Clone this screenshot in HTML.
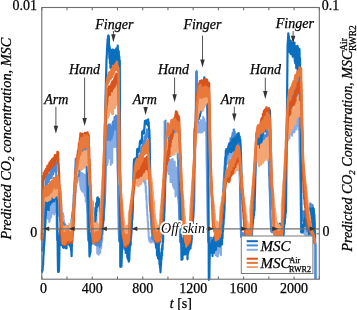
<!DOCTYPE html>
<html><head><meta charset="utf-8"><style>
html,body{margin:0;padding:0;background:#fff;width:357px;height:310px;overflow:hidden}
svg{display:block;will-change:transform}
text{font-family:"Liberation Serif",serif;font-size:14px;fill:#000;stroke:#000;stroke-width:0.25px}
.it{font-style:italic}
</style></head><body>
<svg width="357" height="310" viewBox="0 0 357 310">
<rect width="357" height="310" fill="#fff"/>
<g id="series"><path d="M41.90,244.4 L42.07,245.0 L42.34,241.8 L42.61,243.3 L42.88,239.0 L43.15,240.7 L43.42,237.5 L43.69,239.0 L43.96,235.8 L44.23,236.8 L44.50,233.5 L44.75,232.0 L45.00,225.4 L45.25,224.7 L45.50,218.5 L45.75,217.4 L46.00,210.9 L46.25,214.4 L46.50,211.6 L46.75,214.4 L47.00,209.5 L47.25,215.2 L47.50,212.6 L47.75,218.4 L48.00,213.1 L48.25,217.3 L48.50,213.5 L48.75,218.9 L49.00,214.2 L49.25,222.0 L49.50,212.2 L49.75,221.2 L50.00,210.2 L50.25,217.5 L50.50,211.0 L50.75,217.7 L51.00,205.2 L51.25,217.1 L51.50,203.2 L51.75,213.2 L52.00,204.8 L52.25,213.7 L52.50,205.2 L52.75,212.3 L53.00,200.5 L53.25,209.9 L53.50,204.8 L53.75,213.2 L54.00,200.5 L54.25,214.5 L54.50,202.4 L54.75,209.7 L55.00,198.7 L55.25,211.8 L55.50,200.3 L55.75,209.4 L56.00,198.3 L56.25,210.6 L56.50,202.5 L56.75,213.6 L57.00,199.8 L57.25,214.0 L57.50,199.5 L57.75,210.8 L58.00,205.3 L58.25,213.8 L58.50,205.1 L58.75,215.8 L59.00,208.0 L59.25,215.7 L59.50,204.2 L59.75,216.1 L60.00,208.0 L60.25,219.0 L60.50,205.5 L60.75,219.6 L61.00,211.1 L61.25,220.1 L61.50,206.9 L61.75,216.0 L62.00,212.4 L62.25,218.5 L62.50,213.8 L62.75,220.4 L63.00,213.3 L63.25,223.2 L63.50,215.8 L63.75,226.0 L64.00,220.8 L64.25,228.2 L64.50,222.7 L64.75,230.9 L65.00,227.3 L65.25,236.1 L65.50,229.3 L65.75,237.9 L66.00,234.7 L66.25,239.8 L66.50,233.8 L66.75,241.1 L67.00,235.2 L67.25,241.1 L67.50,238.4 L67.75,243.8 L68.00,235.6 L68.25,242.8 L68.50,236.1 L68.75,243.2 L69.00,238.9 L69.25,243.9 L69.50,238.9 L69.75,243.1 L70.00,237.1 L70.25,244.5 L70.50,239.3 L70.75,244.8 L71.00,239.1 L71.25,238.0 L71.50,228.9 L71.75,230.8 L72.00,221.0 L72.25,221.9 L72.50,213.2 L72.75,213.1 L73.00,203.6 L73.25,203.6 L73.50,195.1 L73.75,194.9 L74.00,187.7 L74.25,185.0 L74.50,179.0 L74.75,176.9 L75.00,168.1 L75.25,166.2 L75.50,158.6 L75.75,161.9 L76.00,160.7 L76.25,164.8 L76.50,161.9 L76.75,167.5 L77.00,163.6 L77.25,168.6 L77.50,165.8 L77.75,173.4 L78.00,167.4 L78.25,172.6 L78.50,166.8 L78.75,178.5 L79.00,167.6 L79.25,180.8 L79.50,173.0 L79.75,181.7 L80.00,172.9 L80.25,186.1 L80.50,173.1 L80.75,189.0 L81.00,173.1 L81.25,189.0 L81.50,176.4 L81.75,190.7 L82.00,173.1 L82.25,190.7 L82.50,180.4 L82.75,191.8 L83.00,175.9 L83.25,190.8 L83.50,174.1 L83.75,188.8 L84.00,174.4 L84.25,192.8 L84.50,177.3 L84.75,195.7 L85.00,178.1 L85.25,190.6 L85.50,175.0 L85.75,201.6 L86.00,180.1 L86.25,195.9 L86.50,186.5 L86.75,204.5 L87.00,190.0 L87.25,207.5 L87.50,196.5 L87.75,213.6 L88.00,203.6 L88.25,217.6 L88.50,213.6 L88.75,218.7 L89.00,206.8 L89.25,212.0 L89.50,202.9 L89.75,207.4 L90.00,195.2 L90.25,207.2 L90.50,199.2 L90.75,210.4 L91.00,203.1 L91.25,212.7 L91.50,201.4 L91.75,215.3 L92.00,202.7 L92.25,222.0 L92.50,204.0 L92.75,224.0 L93.00,201.7 L93.25,223.7 L93.50,211.0 L93.75,225.2 L94.00,207.5 L94.25,227.1 L94.50,210.2 L94.75,225.3 L95.00,212.3 L95.25,239.3 L95.50,218.5 L95.75,235.8 L96.00,220.0 L96.25,239.7 L96.50,214.6 L96.75,243.0 L97.00,223.9 L97.25,253.6 L97.50,224.4 L97.75,243.5 L98.00,225.1 L98.25,247.9 L98.50,234.8 L98.75,254.7 L99.00,229.6 L99.25,251.4 L99.50,230.8 L99.75,252.8 L100.00,229.5 L100.25,252.8 L100.50,226.5 L100.75,247.2 L101.00,228.1 L101.25,248.0 L101.50,234.4 L101.75,242.8 L102.00,236.9 L102.25,240.0 L102.50,228.9 L102.75,234.2 L103.00,222.1 L103.25,226.7 L103.50,216.2 L103.75,220.3 L104.00,213.3 L104.25,211.1 L104.50,205.7 L104.75,204.6 L105.00,199.5 L105.25,192.2 L105.50,181.7 L105.75,174.6 L106.00,164.4 L106.25,165.1 L106.50,159.2 L106.75,163.2 L107.00,149.9 L107.25,165.0 L107.50,141.9 L107.75,162.5 L108.00,133.5 L108.25,156.1 L108.50,132.9 L108.75,157.9 L109.00,136.5 L109.25,156.2 L109.50,127.4 L109.75,158.6 L110.00,140.9 L110.25,155.9 L110.50,131.8 L110.75,165.1 L111.00,131.2 L111.25,157.5 L111.50,130.2 L111.75,158.2 L112.00,126.9 L112.25,163.0 L112.50,128.6 L112.75,146.3 L113.00,128.1 L113.25,145.4 L113.50,125.2 L113.75,147.0 L114.00,123.3 L114.25,141.3 L114.50,125.6 L114.75,141.4 L115.00,128.4 L115.25,147.0 L115.50,121.2 L115.75,144.1 L116.00,127.2 L116.25,135.0 L116.50,119.6 L116.75,139.3 L117.00,124.0 L117.25,150.0 L117.50,153.4 L117.75,174.5 L118.00,184.0 L118.25,204.6 L118.50,210.4 L118.75,227.9 L119.00,238.0 L119.25,240.8 L119.50,238.8 L119.75,241.2 L120.00,238.8 L120.25,242.7 L120.50,238.2 L120.75,243.8 L121.00,238.0 L121.25,243.8 L121.50,238.9 L121.75,243.4 L122.00,238.2 L122.25,245.3 L122.50,237.4 L122.75,245.7 L123.00,239.2 L123.25,245.5 L123.50,238.4 L123.75,247.5 L124.00,240.3 L124.25,249.4 L124.50,238.8 L124.75,246.9 L125.00,235.9 L125.25,248.8 L125.50,235.3 L125.75,250.7 L126.00,236.6 L126.25,247.1 L126.50,240.7 L126.75,249.8 L127.00,236.6 L127.25,247.9 L127.50,239.5 L127.75,244.9 L128.00,233.1 L128.25,245.6 L128.50,235.2 L128.75,244.0 L129.00,236.1 L129.25,242.7 L129.50,234.2 L129.75,245.1 L130.00,240.4 L130.25,244.4 L130.50,236.1 L130.75,244.0 L131.00,234.9 L131.25,238.8 L131.50,228.6 L131.75,228.8 L132.00,218.2 L132.25,217.9 L132.50,210.0 L132.75,208.1 L133.00,198.7 L133.25,198.4 L133.50,188.1 L133.75,187.2 L134.00,179.4 L134.25,179.4 L134.50,175.5 L134.75,179.0 L135.00,172.5 L135.25,175.7 L135.50,169.0 L135.75,172.1 L136.00,168.0 L136.25,170.5 L136.50,164.8 L136.75,168.7 L137.00,160.7 L137.25,168.6 L137.50,155.6 L137.75,163.3 L138.00,152.2 L138.25,165.8 L138.50,157.8 L138.75,165.0 L139.00,157.5 L139.25,168.6 L139.50,156.2 L139.75,165.2 L140.00,156.6 L140.25,171.5 L140.50,162.7 L140.75,171.9 L141.00,164.8 L141.25,175.5 L141.50,167.2 L141.75,172.6 L142.00,166.2 L142.25,174.6 L142.50,167.8 L142.75,178.1 L143.00,166.5 L143.25,181.6 L143.50,170.3 L143.75,176.5 L144.00,169.6 L144.25,178.9 L144.50,166.7 L144.75,183.2 L145.00,168.3 L145.25,185.0 L145.50,181.5 L145.75,192.2 L146.00,186.2 L146.25,199.7 L146.50,195.6 L146.75,208.2 L147.00,205.2 L147.25,215.1 L147.50,214.9 L147.75,222.5 L148.00,221.8 L148.25,230.7 L148.50,231.3 L148.75,237.9 L149.00,238.2 L149.25,240.8 L149.50,239.3 L149.75,241.1 L150.00,238.3 L150.25,242.2 L150.50,237.8 L150.75,242.3 L151.00,237.9 L151.25,242.4 L151.50,236.9 L151.75,242.3 L152.00,238.0 L152.25,241.5 L152.50,236.6 L152.75,240.2 L153.00,236.4 L153.25,241.5 L153.50,236.8 L153.75,241.6 L154.00,236.1 L154.25,242.1 L154.50,235.9 L154.75,243.0 L155.00,235.5 L155.25,244.0 L155.50,237.1 L155.75,242.7 L156.00,236.7 L156.25,242.7 L156.50,236.9 L156.75,244.2 L157.00,236.6 L157.25,242.6 L157.50,233.9 L157.75,244.6 L158.00,233.8 L158.25,244.1 L158.50,235.5 L158.75,241.4 L159.00,235.4 L159.25,245.2 L159.50,236.1 L159.75,242.8 L160.00,236.4 L160.25,240.3 L160.50,229.0 L160.75,237.2 L161.00,226.7 L161.25,230.5 L161.50,221.9 L161.75,227.2 L162.00,218.4 L162.25,221.7 L162.50,216.1 L162.75,218.6 L163.00,213.0 L163.25,213.4 L163.50,207.4 L163.75,207.5 L164.00,203.7 L164.25,202.6 L164.50,199.6 L164.50,121.5 L164.75,139.7 L165.00,160.6 L165.25,159.5 L165.50,162.9 L165.75,160.1 L166.00,164.8 L166.25,159.5 L166.50,166.8 L166.75,159.3 L167.00,165.2 L167.25,161.9 L167.50,167.2 L167.75,163.3 L168.00,171.7 L168.25,161.2 L168.50,173.9 L168.75,163.6 L169.00,174.1 L169.25,162.3 L169.50,174.5 L169.75,160.0 L170.00,173.1 L170.25,163.5 L170.50,182.0 L170.75,160.6 L171.00,182.1 L171.25,164.4 L171.50,176.0 L171.75,159.6 L172.00,179.5 L172.25,162.6 L172.50,182.8 L172.75,159.0 L173.00,185.6 L173.25,168.9 L173.50,187.4 L173.75,162.6 L174.00,187.7 L174.25,170.3 L174.50,189.1 L174.75,161.5 L175.00,188.7 L175.25,171.4 L175.50,196.5 L175.75,177.2 L176.00,185.9 L176.25,167.6 L176.50,195.3 L176.75,169.4 L177.00,191.0 L177.25,176.9 L177.50,188.0 L177.75,174.8 L178.00,198.5 L178.25,184.9 L178.50,204.0 L178.75,202.2 L179.00,215.9 L179.25,213.7 L179.50,231.1 L179.75,230.0 L180.00,241.8 L180.25,239.6 L180.50,242.4 L180.75,239.1 L181.00,243.6 L181.25,239.4 L181.50,242.7 L181.75,238.4 L182.00,244.2 L182.25,239.1 L182.50,243.5 L182.75,239.9 L183.00,245.4 L183.25,239.0 L183.50,246.3 L183.75,239.4 L184.00,248.6 L184.25,243.5 L184.50,249.4 L184.75,241.4 L185.00,250.3 L185.25,242.5 L185.50,248.3 L185.75,241.3 L186.00,250.3 L186.25,245.3 L186.50,252.8 L186.75,241.9 L187.00,249.8 L187.25,243.3 L187.50,249.0 L187.75,239.2 L188.00,247.1 L188.25,241.2 L188.50,247.6 L188.75,242.3 L189.00,245.7 L189.25,240.8 L189.50,244.6 L189.75,239.3 L190.00,244.9 L190.25,236.7 L190.50,245.0 L190.75,236.2 L191.00,244.0 L191.25,237.9 L191.50,243.7 L191.75,236.0 L192.00,241.8 L192.25,232.0 L192.50,234.4 L192.75,224.9 L193.00,225.4 L193.25,217.7 L193.50,216.9 L193.75,211.0 L194.00,209.1 L194.25,203.5 L194.50,200.5 L194.75,181.6 L195.00,165.4 L195.25,147.0 L195.50,130.9 L195.75,128.8 L196.00,130.4 L196.25,128.8 L196.50,131.4 L196.75,127.2 L197.00,132.3 L197.25,126.2 L197.50,132.0 L197.75,126.5 L198.00,130.3 L198.25,124.6 L198.50,132.7 L198.75,125.0 L199.00,131.1 L199.25,122.2 L199.50,130.5 L199.75,124.6 L200.00,131.4 L200.25,123.3 L200.50,132.4 L200.75,119.9 L201.00,129.9 L201.25,122.4 L201.50,132.3 L201.75,122.9 L202.00,132.1 L202.25,121.4 L202.50,132.2 L202.75,120.1 L203.00,130.3 L203.25,116.7 L203.50,130.5 L203.75,120.8 L204.00,129.9 L204.25,118.7 L204.50,129.6 L204.75,121.1 L205.00,128.5 L205.25,122.7 L205.50,131.2 L205.75,123.2 L206.00,130.5 L206.25,137.0 L206.50,159.4 L206.75,168.0 L207.00,187.8 L207.25,194.1 L207.50,213.4 L207.75,222.9 L208.00,241.1 L208.25,238.8 L208.50,242.6 L208.75,238.3 L209.00,243.4 L209.25,239.4 L209.50,243.2 L209.75,241.4 L210.00,244.5 L210.25,239.8 L210.50,245.8 L210.75,240.7 L211.00,247.0 L211.25,240.3 L211.50,245.3 L211.75,240.2 L212.00,247.7 L212.25,240.6 L212.50,250.6 L212.75,242.1 L213.00,246.9 L213.25,238.9 L213.50,251.0 L213.75,243.3 L214.00,248.6 L214.25,243.7 L214.50,248.3 L214.75,241.7 L215.00,253.1 L215.25,240.2 L215.50,254.9 L215.75,243.6 L216.00,254.0 L216.25,242.9 L216.50,251.9 L216.75,244.7 L217.00,256.2 L217.25,244.6 L217.50,253.7 L217.75,245.6 L218.00,256.4 L218.25,242.0 L218.50,249.3 L218.75,242.1 L219.00,252.4 L219.25,243.0 L219.50,248.7 L219.75,242.6 L220.00,249.3 L220.25,237.1 L220.50,253.9 L220.75,239.1 L221.00,255.3 L221.25,235.0 L221.50,243.8 L221.75,227.9 L222.00,230.2 L222.25,218.0 L222.50,218.7 L222.75,209.7 L223.00,208.6 L223.25,197.0 L223.50,198.3 L223.75,186.6 L224.00,187.4 L224.25,178.7 L224.50,176.8 L224.75,167.9 L225.00,165.8 L225.25,163.3 L225.50,164.7 L225.75,162.1 L226.00,164.5 L226.25,160.7 L226.50,164.3 L226.75,159.5 L227.00,162.8 L227.25,157.3 L227.50,161.3 L227.75,156.5 L228.00,163.5 L228.25,156.6 L228.50,161.1 L228.75,152.5 L229.00,160.5 L229.25,152.5 L229.50,159.3 L229.75,150.3 L230.00,157.6 L230.25,147.2 L230.50,156.7 L230.75,145.7 L231.00,156.9 L231.25,147.3 L231.50,157.6 L231.75,145.7 L232.00,157.7 L232.25,146.5 L232.50,155.8 L232.75,141.7 L233.00,155.3 L233.25,142.7 L233.50,154.5 L233.75,143.7 L234.00,155.3 L234.25,140.9 L234.50,154.1 L234.75,144.0 L235.00,151.6 L235.25,142.9 L235.50,154.6 L235.75,143.4 L236.00,153.2 L236.25,139.4 L236.50,150.3 L236.75,143.3 L237.00,150.2 L237.25,139.1 L237.50,150.8 L237.75,137.8 L238.00,146.3 L238.25,138.4 L238.50,148.2 L238.75,140.8 L239.00,148.3 L239.25,148.3 L239.50,171.5 L239.75,173.4 L240.00,193.1 L240.25,198.5 L240.50,214.4 L240.75,221.6 L241.00,236.0 L241.25,234.0 L241.50,237.0 L241.75,234.0 L242.00,236.4 L242.25,233.2 L242.50,236.0 L242.75,232.8 L243.00,237.2 L243.25,234.0 L243.50,235.7 L243.75,233.3 L244.00,236.9 L244.25,233.1 L244.50,237.1 L244.75,233.9 L245.00,235.9 L245.25,233.8 L245.50,237.6 L245.75,232.9 L246.00,236.8 L246.25,233.3 L246.50,237.1 L246.75,233.1 L247.00,236.5 L247.25,231.4 L247.50,235.9 L247.75,231.7 L248.00,236.2 L248.25,232.0 L248.50,236.9 L248.75,232.1 L249.00,235.9 L249.25,233.1 L249.50,237.8 L249.75,231.7 L250.00,237.4 L250.25,232.6 L250.50,237.6 L250.75,232.9 L251.00,237.8 L251.25,229.9 L251.50,237.6 L251.75,230.0 L252.00,236.1 L252.25,227.1 L252.50,227.3 L252.75,216.4 L253.00,217.3 L253.25,206.8 L253.50,206.6 L253.75,197.0 L254.00,195.5 L254.25,188.3 L254.50,187.0 L254.75,179.1 L255.00,177.4 L255.25,168.8 L255.50,166.4 L255.75,158.2 L256.00,156.5 L256.25,153.9 L256.50,157.0 L256.75,152.5 L257.00,157.6 L257.25,153.9 L257.50,157.0 L257.75,151.3 L258.00,158.1 L258.25,151.9 L258.50,157.4 L258.75,150.3 L259.00,157.3 L259.25,150.6 L259.50,157.1 L259.75,147.2 L260.00,154.5 L260.25,148.1 L260.50,153.4 L260.75,148.6 L261.00,156.0 L261.25,143.8 L261.50,154.0 L261.75,145.5 L262.00,158.6 L262.25,142.0 L262.50,154.3 L262.75,142.9 L263.00,153.3 L263.25,140.0 L263.50,150.3 L263.75,141.5 L264.00,150.2 L264.25,141.4 L264.50,156.2 L264.75,144.1 L265.00,154.2 L265.25,140.9 L265.50,155.1 L265.75,140.2 L266.00,154.1 L266.25,143.6 L266.50,154.8 L266.75,140.4 L267.00,157.7 L267.25,139.6 L267.50,153.0 L267.75,144.3 L268.00,156.1 L268.25,139.1 L268.50,154.3 L268.75,136.8 L269.00,149.8 L269.25,153.6 L269.50,177.6 L269.75,172.2 L270.00,191.8 L270.25,196.2 L270.50,211.9 L270.75,218.3 L271.00,230.6 L271.25,228.3 L271.50,231.9 L271.75,228.2 L272.00,231.7 L272.25,228.9 L272.50,231.7 L272.75,228.8 L273.00,231.2 L273.25,229.6 L273.50,231.6 L273.75,228.3 L274.00,232.1 L274.25,228.9 L274.50,232.0 L274.75,229.8 L275.00,233.0 L275.25,228.9 L275.50,232.4 L275.75,230.0 L276.00,232.5 L276.25,229.1 L276.50,233.9 L276.75,229.8 L277.00,232.5 L277.25,230.4 L277.50,233.8 L277.75,229.4 L278.00,234.2 L278.25,230.5 L278.50,234.0 L278.75,230.0 L279.00,234.7 L279.25,230.8 L279.50,235.6 L279.75,229.8 L280.00,235.1 L280.25,231.6 L280.50,235.2 L280.75,231.3 L281.00,235.0 L281.25,228.2 L281.50,235.0 L281.75,228.5 L282.00,233.5 L282.25,228.3 L282.50,236.2 L282.75,228.4 L283.00,235.4 L283.25,225.9 L283.50,223.6 L283.75,213.8 L284.00,213.1 L284.25,202.1 L284.50,199.7 L284.75,191.3 L285.00,188.3 L285.25,177.5 L285.50,176.7 L285.75,167.0 L286.00,164.9 L286.25,155.7 L286.50,152.9 L286.75,143.8 L287.00,140.8 L287.25,138.7 L287.50,140.9 L287.75,136.6 L288.00,140.0 L288.25,136.4 L288.50,139.3 L288.75,135.0 L289.00,137.3 L289.25,132.6 L289.50,138.3 L289.75,130.2 L290.00,134.5 L290.25,128.6 L290.50,134.1 L290.75,125.4 L291.00,133.3 L291.25,122.0 L291.50,133.3 L291.75,121.1 L292.00,135.8 L292.25,122.8 L292.50,133.6 L292.75,118.7 L293.00,132.3 L293.25,118.5 L293.50,129.5 L293.75,116.8 L294.00,127.7 L294.25,113.2 L294.50,132.2 L294.75,115.1 L295.00,126.7 L295.25,114.1 L295.50,127.7 L295.75,109.1 L296.00,129.6 L296.25,109.6 L296.50,124.4 L296.75,113.3 L297.00,123.9 L297.25,108.6 L297.50,126.3 L297.75,107.9 L298.00,123.5 L298.25,114.7 L298.50,129.8 L298.75,112.3 L299.00,123.4 L299.25,125.8 L299.50,151.3 L299.75,155.8 L300.00,178.9 L300.25,184.0 L300.50,204.1 L300.75,215.6 L301.00,232.0 L301.25,228.5 L301.50,231.0 L301.75,228.8 L302.00,231.8 L302.25,229.6 L302.50,233.0 L302.75,230.1 L303.00,232.3 L303.25,230.3 L303.50,233.2 L303.75,229.1 L304.00,233.5 L304.25,230.3 L304.50,233.1 L304.75,229.8 L305.00,234.7 L305.25,230.0 L305.50,234.9 L305.75,229.7 L306.00,234.3 L306.25,231.1 L306.50,234.3 L306.75,230.0 L307.00,233.9 L307.25,231.3 L307.50,235.8 L307.75,230.6 L308.00,236.2 L308.25,232.6 L308.50,238.2 L308.75,231.8 L309.00,238.2 L309.25,233.9 L309.50,237.7 L309.75,233.0 L310.00,237.4 L310.25,232.3 L310.50,237.7 L310.75,230.7 L311.00,238.6 L311.25,232.7 L311.50,237.8 L311.75,233.6 L312.00,238.6 L312.25,234.1 L312.50,237.4 L312.75,233.7 L313.00,238.9 L313.25,236.7 L313.50,241.2 L313.75,237.9 L314.00,242.8 L314.25,238.9 L314.50,242.6 L314.75,240.3 L315.00,243.8 L315.25,242.2 L315.50,245.5 L315.75,243.6 L316.00,246.2 L316.20,279.0" fill="none" stroke="#88ace4" stroke-width="2.0" stroke-linejoin="round"/>
<path d="M41.90,248.4 L42.07,250.8 L42.34,247.4 L42.61,248.9 L42.88,244.3 L43.15,246.1 L43.42,242.9 L43.69,244.5 L43.96,240.9 L44.23,242.4 L44.50,238.6 L44.75,226.1 L45.00,209.1 L45.25,198.1 L45.50,180.5 L45.75,183.6 L46.00,180.2 L46.25,183.4 L46.50,176.5 L46.75,184.8 L47.00,178.2 L47.25,184.4 L47.50,174.9 L47.75,181.7 L48.00,176.3 L48.25,182.3 L48.50,176.3 L48.75,181.4 L49.00,174.3 L49.25,179.7 L49.50,174.5 L49.75,177.8 L50.00,173.6 L50.25,178.5 L50.50,169.7 L50.75,176.2 L51.00,168.3 L51.25,178.2 L51.50,169.2 L51.75,178.1 L52.00,169.8 L52.25,173.3 L52.50,168.5 L52.75,173.2 L53.00,165.3 L53.25,174.5 L53.50,167.5 L53.75,170.5 L54.00,164.8 L54.25,170.9 L54.50,166.2 L54.75,171.5 L55.00,164.0 L55.25,167.5 L55.50,161.8 L55.75,169.0 L56.00,162.0 L56.25,187.3 L56.50,200.8 L56.75,224.2 L57.00,239.2 L57.25,240.3 L57.50,238.0 L57.75,240.3 L58.00,234.4 L58.25,239.8 L58.50,235.1 L58.75,239.9 L59.00,234.5 L59.25,239.7 L59.50,233.1 L59.75,237.4 L60.00,230.2 L60.25,238.2 L60.50,228.0 L60.75,234.6 L61.00,229.8 L61.25,236.8 L61.50,225.7 L61.75,233.6 L62.00,223.8 L62.25,236.6 L62.50,228.4 L62.75,235.1 L63.00,222.6 L63.25,232.1 L63.50,222.8 L63.75,232.2 L64.00,225.3 L64.25,234.2 L64.50,227.9 L64.75,236.6 L65.00,224.4 L65.25,234.8 L65.50,225.4 L65.75,236.7 L66.00,228.8 L66.25,234.1 L66.50,225.7 L66.75,236.5 L67.00,227.5 L67.25,234.7 L67.50,226.6 L67.75,235.9 L68.00,226.8 L68.25,238.7 L68.50,227.9 L68.75,235.5 L69.00,226.1 L69.25,240.9 L69.50,230.5 L69.75,237.1 L70.00,230.4 L70.25,239.2 L70.50,226.0 L70.75,231.6 L71.00,225.2 L71.25,230.6 L71.50,219.3 L71.75,224.8 L72.00,215.6 L72.25,221.6 L72.50,212.0 L72.75,214.3 L73.00,208.5 L73.25,210.6 L73.50,204.3 L73.75,207.4 L74.00,201.6 L74.25,202.5 L74.50,199.3 L74.75,195.1 L75.00,185.4 L75.25,181.1 L75.50,172.0 L75.75,168.5 L76.00,158.7 L76.25,162.7 L76.50,160.1 L76.75,164.4 L77.00,161.1 L77.25,166.0 L77.50,162.6 L77.75,169.8 L78.00,167.9 L78.25,172.2 L78.50,170.3 L78.75,176.0 L79.00,173.6 L79.25,175.7 L79.50,168.3 L79.75,171.4 L80.00,164.3 L80.25,169.8 L80.50,160.2 L80.75,162.5 L81.00,155.9 L81.25,161.7 L81.50,151.6 L81.75,156.6 L82.00,149.1 L82.25,152.4 L82.50,148.8 L82.75,154.3 L83.00,145.0 L83.25,150.6 L83.50,143.2 L83.75,152.5 L84.00,146.9 L84.25,150.3 L84.50,143.4 L84.75,153.2 L85.00,143.5 L85.25,150.0 L85.50,145.0 L85.75,153.7 L86.00,145.7 L86.25,163.1 L86.50,169.0 L86.75,185.9 L87.00,193.2 L87.25,207.6 L87.50,216.2 L87.75,230.0 L88.00,238.3 L88.25,240.7 L88.50,238.1 L88.75,241.2 L89.00,237.7 L89.25,242.0 L89.50,238.6 L89.75,241.4 L90.00,239.5 L90.25,243.2 L90.50,239.4 L90.75,244.2 L91.00,239.3 L91.25,244.4 L91.50,237.6 L91.75,244.1 L92.00,235.1 L92.25,241.0 L92.50,233.9 L92.75,241.5 L93.00,237.0 L93.25,242.2 L93.50,233.9 L93.75,243.3 L94.00,232.2 L94.25,244.1 L94.50,234.2 L94.75,244.3 L95.00,234.5 L95.25,242.2 L95.50,236.8 L95.75,244.9 L96.00,234.7 L96.25,243.8 L96.50,236.3 L96.75,245.2 L97.00,234.6 L97.25,241.9 L97.50,233.2 L97.75,245.5 L98.00,235.3 L98.25,241.5 L98.50,234.7 L98.75,241.3 L99.00,234.4 L99.25,243.6 L99.50,235.3 L99.75,246.8 L100.00,236.4 L100.25,245.6 L100.50,236.6 L100.75,244.9 L101.00,236.8 L101.25,241.5 L101.50,232.9 L101.75,235.3 L102.00,227.2 L102.25,231.6 L102.50,221.2 L102.75,223.6 L103.00,215.8 L103.25,218.4 L103.50,213.3 L103.75,213.5 L104.00,208.1 L104.25,208.0 L104.50,203.6 L104.75,203.7 L105.00,199.6 L105.25,181.5 L105.50,161.7 L105.75,144.1 L106.00,124.2 L106.25,127.0 L106.50,126.2 L106.75,130.6 L107.00,126.0 L107.25,135.5 L107.50,125.6 L107.75,140.0 L108.00,129.9 L108.25,139.4 L108.50,130.9 L108.75,135.6 L109.00,124.2 L109.25,135.0 L109.50,127.6 L109.75,134.6 L110.00,124.4 L110.25,140.4 L110.50,128.4 L110.75,134.8 L111.00,127.9 L111.25,136.4 L111.50,126.9 L111.75,138.4 L112.00,125.9 L112.25,134.5 L112.50,122.9 L112.75,134.7 L113.00,121.5 L113.25,131.1 L113.50,122.7 L113.75,128.1 L114.00,120.9 L114.25,128.9 L114.50,116.9 L114.75,127.5 L115.00,120.6 L115.25,129.4 L115.50,117.4 L115.75,129.3 L116.00,115.6 L116.25,129.1 L116.50,117.2 L116.75,127.7 L117.00,116.2 L117.25,138.9 L117.50,146.2 L117.75,169.3 L118.00,178.5 L118.25,196.0 L118.50,207.6 L118.75,227.2 L119.00,238.7 L119.25,241.3 L119.50,238.4 L119.75,240.9 L120.00,236.5 L120.25,241.1 L120.50,236.8 L120.75,242.9 L121.00,236.8 L121.25,243.4 L121.50,236.9 L121.75,244.8 L122.00,236.8 L122.25,242.8 L122.50,234.9 L122.75,245.1 L123.00,238.5 L123.25,243.0 L123.50,234.5 L123.75,245.2 L124.00,237.5 L124.25,244.3 L124.50,236.0 L124.75,247.0 L125.00,233.2 L125.25,247.9 L125.50,234.2 L125.75,245.8 L126.00,233.5 L126.25,244.2 L126.50,233.7 L126.75,243.5 L127.00,230.5 L127.25,240.7 L127.50,233.0 L127.75,245.3 L128.00,232.3 L128.25,244.1 L128.50,234.7 L128.75,244.9 L129.00,236.0 L129.25,244.9 L129.50,236.3 L129.75,245.1 L130.00,232.9 L130.25,244.6 L130.50,234.6 L130.75,244.9 L131.00,232.6 L131.25,236.1 L131.50,223.5 L131.75,224.3 L132.00,213.7 L132.25,214.0 L132.50,203.7 L132.75,201.2 L133.00,192.2 L133.25,190.4 L133.50,182.0 L133.75,178.8 L134.00,170.7 L134.25,173.5 L134.50,169.6 L134.75,172.5 L135.00,169.3 L135.25,173.2 L135.50,166.8 L135.75,172.5 L136.00,165.8 L136.25,171.6 L136.50,165.7 L136.75,170.1 L137.00,164.4 L137.25,169.8 L137.50,160.9 L137.75,165.9 L138.00,162.3 L138.25,166.2 L138.50,159.6 L138.75,164.7 L139.00,157.7 L139.25,163.2 L139.50,156.2 L139.75,160.3 L140.00,155.6 L140.25,160.3 L140.50,151.9 L140.75,155.6 L141.00,150.9 L141.25,155.7 L141.50,147.4 L141.75,153.8 L142.00,146.8 L142.25,151.7 L142.50,144.1 L142.75,149.6 L143.00,142.4 L143.25,146.5 L143.50,142.5 L143.75,146.6 L144.00,140.2 L144.25,145.4 L144.50,136.8 L144.75,144.1 L145.00,136.2 L145.25,141.0 L145.50,134.4 L145.75,141.0 L146.00,134.5 L146.25,138.2 L146.50,132.3 L146.75,137.1 L147.00,129.3 L147.25,135.5 L147.50,131.8 L147.75,135.4 L148.00,133.2 L148.25,136.8 L148.50,134.1 L148.75,138.1 L149.00,135.8 L149.25,169.7 L149.50,199.4 L149.75,204.9 L150.00,205.0 L150.25,211.6 L150.50,211.7 L150.75,218.0 L151.00,218.5 L151.25,225.8 L151.50,226.6 L151.75,232.9 L152.00,230.5 L152.25,238.4 L152.50,233.3 L152.75,236.8 L153.00,233.6 L153.25,239.6 L153.50,233.3 L153.75,239.9 L154.00,232.4 L154.25,237.4 L154.50,234.3 L154.75,240.4 L155.00,233.0 L155.25,239.1 L155.50,232.0 L155.75,238.3 L156.00,231.7 L156.25,242.9 L156.50,233.2 L156.75,243.9 L157.00,235.7 L157.25,242.7 L157.50,236.5 L157.75,245.6 L158.00,237.4 L158.25,243.3 L158.50,236.0 L158.75,244.4 L159.00,234.4 L159.25,244.6 L159.50,232.3 L159.75,242.4 L160.00,234.7 L160.25,241.6 L160.50,227.2 L160.75,232.0 L161.00,219.6 L161.25,220.9 L161.50,213.4 L161.75,217.2 L162.00,207.6 L162.25,209.1 L162.50,197.6 L162.75,198.4 L163.00,190.2 L163.25,190.9 L163.50,181.2 L163.75,181.7 L164.00,174.8 L164.25,173.0 L164.50,166.7 L164.75,164.9 L165.00,159.6 L165.25,141.4 L165.50,120.5 L165.75,136.4 L166.00,149.1 L166.25,150.2 L166.50,147.7 L166.75,150.2 L167.00,144.5 L167.25,148.5 L167.50,144.9 L167.75,147.9 L168.00,143.4 L168.25,147.0 L168.50,142.0 L168.75,147.0 L169.00,137.6 L169.25,145.1 L169.50,134.8 L169.75,143.0 L170.00,134.9 L170.25,143.9 L170.50,131.9 L170.75,142.7 L171.00,131.9 L171.25,142.0 L171.50,131.4 L171.75,139.6 L172.00,129.0 L172.25,141.3 L172.50,133.1 L172.75,138.4 L173.00,131.4 L173.25,139.4 L173.50,128.8 L173.75,136.8 L174.00,128.4 L174.25,138.4 L174.50,125.2 L174.75,135.0 L175.00,126.3 L175.25,134.6 L175.50,128.0 L175.75,137.4 L176.00,123.5 L176.25,134.7 L176.50,123.7 L176.75,135.8 L177.00,125.5 L177.25,138.8 L177.50,141.9 L177.75,158.5 L178.00,159.6 L178.25,175.9 L178.50,180.7 L178.75,196.9 L179.00,200.9 L179.25,212.8 L179.50,219.6 L179.75,232.3 L180.00,238.1 L180.25,242.0 L180.50,238.3 L180.75,242.2 L181.00,239.2 L181.25,242.2 L181.50,238.8 L181.75,242.6 L182.00,238.8 L182.25,243.0 L182.50,239.1 L182.75,242.0 L183.00,238.5 L183.25,242.8 L183.50,237.5 L183.75,241.4 L184.00,236.6 L184.25,241.4 L184.50,236.9 L184.75,243.5 L185.00,237.6 L185.25,241.8 L185.50,235.9 L185.75,241.9 L186.00,235.4 L186.25,242.4 L186.50,235.4 L186.75,241.5 L187.00,235.1 L187.25,241.4 L187.50,233.1 L187.75,240.8 L188.00,234.7 L188.25,242.6 L188.50,233.1 L188.75,245.1 L189.00,236.4 L189.25,241.7 L189.50,232.9 L189.75,245.5 L190.00,234.2 L190.25,241.5 L190.51,229.7 L190.76,230.3 L191.02,217.7 L191.27,223.2 L191.53,211.4 L191.78,212.9 L192.04,202.4 L192.29,203.6 L192.55,193.8 L192.80,192.5 L193.05,184.8 L193.31,183.7 L193.56,174.2 L193.82,172.6 L194.07,164.7 L194.33,164.8 L194.58,156.1 L194.84,154.5 L195.09,147.6 L195.35,145.0 L195.60,139.0 L196.00,72.9 L196.25,71.5 L196.50,73.0 L196.75,71.1 L197.00,72.4 L197.30,89.8 L197.60,111.9 L197.87,108.6 L198.13,111.6 L198.40,105.1 L198.67,110.0 L198.93,104.7 L199.20,112.3 L199.47,101.4 L199.73,109.4 L200.00,103.2 L200.25,107.6 L200.50,101.7 L200.75,110.6 L201.00,102.4 L201.25,110.0 L201.50,97.0 L201.75,110.2 L202.00,96.0 L202.25,106.5 L202.50,98.1 L202.75,106.6 L203.00,94.4 L203.25,107.1 L203.50,93.9 L203.75,106.1 L204.00,97.0 L204.25,105.9 L204.50,95.4 L204.75,101.7 L205.00,93.4 L205.25,101.2 L205.50,90.9 L205.75,104.4 L206.00,93.6 L206.25,99.8 L206.50,91.2 L206.75,95.7 L207.00,88.3 L207.25,131.6 L207.50,162.3 L207.75,204.0 L208.00,238.4 L208.25,241.8 L208.50,238.1 L208.75,240.7 L209.00,237.9 L209.25,242.3 L209.50,237.7 L209.75,240.9 L210.00,237.7 L210.25,242.2 L210.50,238.7 L210.75,242.0 L211.00,237.5 L211.25,242.0 L211.50,238.3 L211.75,243.7 L212.00,238.1 L212.25,241.7 L212.50,238.4 L212.75,244.4 L213.00,238.1 L213.25,242.2 L213.50,237.8 L213.75,242.9 L214.00,237.5 L214.25,243.0 L214.50,236.1 L214.75,243.6 L215.00,235.2 L215.25,241.0 L215.50,236.4 L215.75,241.2 L216.00,237.9 L216.25,244.5 L216.50,235.6 L216.75,243.4 L217.00,234.8 L217.25,244.5 L217.50,237.4 L217.75,242.0 L218.00,237.4 L218.25,241.6 L218.50,235.6 L218.75,245.7 L219.00,238.0 L219.25,242.5 L219.50,233.3 L219.75,242.2 L220.00,233.3 L220.25,236.1 L220.50,224.3 L220.75,228.4 L221.00,218.0 L221.25,221.1 L221.50,216.1 L221.75,217.5 L222.00,206.8 L222.25,207.7 L222.50,197.1 L222.75,200.4 L223.00,189.6 L223.25,191.7 L223.50,181.7 L223.75,183.1 L224.00,173.9 L224.25,173.5 L224.50,167.3 L224.75,164.8 L225.00,158.1 L225.25,161.0 L225.50,156.9 L225.75,159.1 L226.00,155.1 L226.25,158.6 L226.50,154.6 L226.75,158.7 L227.00,152.6 L227.25,156.2 L227.50,152.1 L227.75,155.7 L228.00,150.2 L228.25,154.8 L228.50,147.2 L228.75,150.3 L229.00,146.5 L229.25,149.1 L229.50,142.8 L229.75,150.3 L230.00,144.0 L230.25,148.7 L230.50,138.3 L230.75,147.2 L231.00,138.0 L231.25,146.6 L231.50,138.5 L231.75,142.4 L232.00,135.9 L232.28,142.9 L232.55,132.9 L232.82,138.7 L233.10,132.7 L233.38,135.0 L233.65,129.5 L233.92,133.3 L234.20,129.6 L234.46,134.6 L234.71,131.5 L234.97,136.3 L235.23,134.2 L235.49,138.1 L235.74,135.1 L236.00,143.6 L236.25,135.3 L236.50,142.9 L236.75,136.1 L237.00,143.9 L237.25,134.6 L237.50,142.3 L237.75,137.7 L238.00,144.4 L238.25,135.8 L238.50,141.3 L238.75,136.7 L239.00,142.4 L239.25,147.0 L239.50,166.9 L239.75,172.3 L240.00,187.5 L240.25,196.2 L240.50,212.9 L240.75,221.4 L241.00,237.0 L241.25,233.4 L241.50,236.9 L241.75,233.4 L242.00,235.9 L242.25,233.5 L242.50,236.2 L242.75,233.4 L243.00,235.9 L243.25,233.7 L243.50,237.1 L243.75,234.1 L244.00,236.1 L244.25,234.3 L244.50,236.4 L244.75,233.6 L245.00,236.8 L245.25,233.5 L245.50,236.5 L245.75,233.0 L246.00,236.5 L246.25,232.1 L246.50,235.7 L246.75,232.1 L247.00,235.2 L247.25,230.4 L247.50,235.2 L247.75,232.4 L248.00,235.4 L248.25,231.5 L248.50,235.4 L248.75,229.9 L249.00,237.8 L249.25,233.8 L249.50,238.1 L249.75,231.1 L250.00,238.3 L250.25,232.1 L250.50,239.2 L250.75,234.4 L251.00,240.5 L251.25,233.6 L251.50,237.9 L251.75,233.0 L252.00,239.6 L252.25,226.9 L252.50,228.1 L252.75,216.5 L253.00,213.9 L253.25,204.7 L253.50,205.2 L253.75,195.6 L254.00,194.4 L254.25,182.9 L254.50,183.3 L254.75,175.0 L255.00,173.0 L255.25,164.0 L255.50,162.0 L255.75,153.5 L256.00,151.4 L256.25,148.5 L256.50,151.1 L256.75,147.3 L257.00,148.6 L257.25,144.3 L257.50,148.2 L257.75,143.3 L258.00,150.1 L258.25,144.0 L258.50,149.6 L258.75,144.3 L259.00,151.2 L259.25,145.0 L259.50,147.9 L259.75,144.1 L260.00,148.9 L260.25,141.3 L260.50,151.3 L260.75,140.0 L261.00,148.3 L261.25,138.0 L261.50,145.8 L261.75,139.6 L262.00,149.4 L262.25,137.2 L262.50,146.0 L262.75,135.5 L263.00,150.6 L263.25,137.6 L263.50,147.4 L263.75,140.7 L264.00,146.4 L264.25,137.3 L264.50,145.0 L264.75,135.3 L265.00,150.6 L265.25,138.4 L265.50,150.6 L265.75,134.9 L266.00,146.7 L266.25,139.1 L266.50,144.5 L266.75,132.2 L267.00,142.1 L267.25,130.1 L267.50,139.8 L267.75,132.0 L268.00,142.7 L268.25,135.8 L268.50,159.1 L268.75,156.3 L269.00,174.9 L269.25,175.3 L269.50,189.0 L269.75,190.5 L270.00,204.2 L270.25,206.1 L270.50,218.2 L270.75,220.7 L271.00,231.0 L271.25,228.7 L271.50,231.3 L271.75,228.8 L272.00,232.2 L272.25,228.2 L272.50,232.2 L272.75,228.0 L273.00,231.0 L273.25,228.8 L273.50,231.3 L273.75,229.3 L274.00,231.5 L274.25,228.4 L274.50,231.6 L274.75,227.3 L275.00,231.9 L275.25,229.1 L275.50,231.1 L275.75,228.3 L276.00,232.5 L276.25,227.2 L276.50,232.0 L276.75,227.2 L277.00,232.5 L277.25,227.4 L277.50,232.9 L277.75,227.7 L278.00,232.5 L278.25,227.2 L278.50,231.7 L278.75,229.3 L279.00,234.6 L279.25,228.7 L279.50,234.5 L279.75,230.6 L280.00,233.3 L280.25,229.7 L280.50,235.6 L280.75,230.5 L281.00,234.6 L281.25,228.8 L281.50,236.0 L281.75,228.1 L282.00,234.5 L282.25,227.9 L282.50,236.5 L282.75,229.4 L283.00,236.3 L283.25,230.1 L283.50,235.0 L283.75,228.2 L284.00,233.0 L284.25,220.3 L284.50,215.3 L284.75,201.3 L285.00,196.3 L285.25,181.9 L285.50,177.7 L285.75,163.2 L286.00,158.1 L286.25,145.4 L286.50,140.3 L286.75,128.1 L287.00,120.8 L287.25,116.5 L287.50,119.1 L287.75,114.2 L288.00,117.1 L288.25,109.6 L288.50,112.1 L288.75,106.1 L289.00,109.8 L289.25,102.0 L289.50,107.6 L289.75,100.0 L290.00,105.7 L290.25,94.7 L290.50,101.4 L290.75,93.3 L291.00,101.3 L291.25,91.3 L291.50,99.1 L291.75,88.3 L292.00,95.6 L292.25,86.5 L292.50,98.4 L292.75,87.5 L293.00,93.9 L293.25,83.3 L293.50,92.2 L293.75,82.1 L294.00,95.4 L294.25,83.9 L294.50,95.2 L294.75,81.0 L295.00,93.0 L295.25,82.9 L295.50,91.0 L295.75,79.2 L296.00,90.3 L296.25,81.5 L296.50,87.6 L296.75,82.2 L297.00,90.7 L297.25,79.4 L297.50,86.6 L297.75,81.8 L298.00,82.6 L298.25,72.9 L298.50,82.8 L298.75,75.1 L299.00,83.3 L299.25,87.2 L299.50,107.9 L299.75,117.3 L300.00,135.2 L300.25,142.2 L300.50,163.7 L300.75,171.3 L301.00,190.1 L301.25,200.2 L301.50,216.3 L301.75,214.0 L302.00,217.5 L302.25,213.8 L302.50,216.8 L302.75,211.1 L303.00,221.2 L303.25,212.3 L303.50,218.3 L303.75,214.3 L304.00,224.3 L304.25,212.8 L304.50,225.8 L304.75,211.1 L305.00,222.0 L305.25,211.1 L305.50,223.4 L305.75,211.5 L306.00,226.7 L306.25,209.7 L306.50,223.6 L306.75,209.4 L307.00,231.3 L307.25,210.1 L307.50,223.9 L307.75,213.7 L308.00,229.6 L308.25,209.0 L308.50,231.1 L308.75,215.7 L309.00,229.5 L309.25,209.4 L309.50,224.2 L309.75,209.3 L310.00,225.5 L310.25,203.2 L310.50,219.8 L310.75,211.4 L311.00,225.2 L311.25,208.7 L311.50,223.6 L311.75,204.5 L312.00,225.0 L312.25,210.5 L312.50,225.5 L312.75,205.3 L313.00,224.5 L313.25,210.5 L313.50,223.4 L313.75,211.5 L314.00,225.7 L314.25,213.5 L314.50,222.0 L314.85,222.5 L315.20,235.7 L315.20,279.0" fill="none" stroke="#4a8ad6" stroke-width="2.0" stroke-linejoin="round"/>
<path d="M41.90,272.6 L42.05,272.2 L42.30,269.6 L42.55,270.5 L42.80,266.6 L43.08,264.6 L43.37,256.8 L43.65,253.6 L43.93,247.2 L44.22,244.7 L44.50,236.5 L44.75,234.6 L45.00,227.3 L45.25,224.2 L45.50,216.5 L45.75,214.9 L46.00,207.1 L46.25,210.1 L46.50,202.2 L46.75,208.9 L47.00,201.8 L47.25,208.8 L47.50,199.3 L47.75,207.2 L48.00,199.1 L48.25,209.4 L48.50,200.2 L48.75,210.3 L49.00,198.4 L49.25,205.6 L49.50,198.8 L49.75,204.8 L50.00,193.9 L50.25,204.1 L50.50,191.3 L50.75,199.8 L51.00,193.3 L51.25,201.2 L51.50,192.3 L51.75,202.5 L52.00,193.9 L52.25,198.4 L52.50,189.7 L52.75,201.1 L53.00,188.0 L53.25,199.4 L53.50,191.3 L53.75,199.9 L54.00,190.1 L54.25,201.4 L54.50,191.8 L54.75,198.3 L55.00,186.8 L55.25,195.6 L55.50,190.8 L55.75,195.9 L56.00,192.7 L56.25,198.8 L56.50,193.7 L56.75,196.5 L57.00,194.9 L57.25,216.2 L57.50,232.1 L57.75,253.7 L58.00,270.5 L58.25,272.0 L58.50,270.0 L58.75,271.5 L59.00,269.7 L59.30,258.0 L59.60,236.9 L59.88,241.2 L60.16,236.1 L60.44,241.3 L60.72,228.3 L61.00,244.9 L61.25,230.4 L61.50,241.3 L61.75,230.5 L62.00,244.7 L62.25,231.5 L62.50,245.8 L62.75,230.7 L63.00,247.3 L63.25,234.1 L63.50,247.8 L63.75,236.8 L64.00,247.2 L64.25,233.4 L64.50,243.7 L64.75,231.1 L65.00,246.0 L65.25,232.3 L65.50,248.1 L65.75,235.9 L66.00,243.2 L66.25,231.2 L66.50,248.4 L66.75,229.5 L67.00,241.2 L67.25,232.4 L67.50,241.5 L67.75,233.8 L68.00,243.6 L68.25,229.6 L68.50,242.1 L68.75,233.9 L69.00,243.1 L69.25,234.5 L69.50,245.5 L69.75,233.4 L70.00,244.3 L70.27,236.0 L70.53,247.0 L70.80,243.7 L71.07,250.5 L71.33,250.6 L71.60,256.1 L71.95,242.1 L72.30,233.9 L72.56,223.9 L72.83,228.0 L73.09,218.1 L73.36,219.4 L73.62,212.5 L73.89,213.5 L74.15,206.1 L74.41,206.6 L74.68,199.3 L74.94,199.8 L75.21,190.9 L75.47,192.7 L75.74,186.2 L76.00,186.9 L76.25,180.8 L76.50,183.0 L76.75,174.4 L77.00,176.4 L77.25,168.4 L77.50,169.9 L77.75,163.7 L78.00,165.0 L78.25,158.2 L78.50,166.0 L78.75,162.8 L79.00,169.6 L79.25,161.5 L79.50,169.0 L79.75,159.4 L80.00,167.3 L80.25,160.3 L80.50,166.8 L80.75,161.5 L81.00,167.0 L81.25,158.4 L81.50,169.1 L81.75,159.3 L82.00,165.1 L82.25,155.9 L82.50,163.7 L82.75,157.2 L83.00,164.0 L83.25,158.5 L83.50,162.5 L83.75,158.8 L84.00,164.2 L84.25,158.4 L84.50,165.4 L84.75,157.4 L85.00,164.3 L85.25,155.9 L85.50,164.4 L85.75,154.4 L86.00,164.1 L86.25,156.8 L86.50,163.8 L86.75,161.1 L87.00,165.6 L87.25,165.9 L87.50,169.6 L87.75,178.5 L88.00,191.1 L88.25,200.5 L88.50,213.4 L88.75,221.6 L89.00,234.4 L89.25,244.1 L89.50,256.4 L89.75,253.7 L90.00,254.4 L90.25,247.5 L90.50,252.3 L90.75,241.2 L91.00,244.5 L91.25,232.9 L91.50,235.3 L91.75,228.5 L92.00,237.1 L92.25,228.1 L92.50,236.2 L92.75,227.8 L93.00,235.6 L93.25,226.3 L93.50,235.0 L93.75,226.0 L94.00,232.4 L94.25,222.8 L94.50,227.4 L94.75,218.9 L95.00,223.2 L95.25,212.7 L95.50,219.6 L95.75,208.4 L96.00,215.4 L96.25,203.2 L96.50,211.9 L96.75,202.4 L97.00,207.4 L97.25,197.8 L97.50,203.3 L97.75,197.3 L98.00,205.2 L98.25,199.8 L98.50,205.5 L98.75,198.8 L99.00,205.5 L99.25,199.0 L99.50,206.1 L99.75,206.1 L100.00,217.1 L100.25,215.6 L100.50,227.5 L100.75,228.2 L101.00,238.2 L101.25,230.2 L101.50,233.8 L101.75,228.4 L102.00,230.2 L102.25,226.8 L102.50,227.2 L102.75,223.6 L103.00,223.5 L103.25,220.2 L103.50,220.6 L103.77,195.7 L104.03,173.9 L104.30,149.5 L104.58,139.6 L104.85,127.0 L105.12,117.2 L105.40,104.7 L105.67,94.4 L105.95,82.0 L106.22,71.9 L106.50,59.6 L106.78,55.7 L107.05,49.5 L107.32,45.7 L107.60,39.5 L107.87,38.6 L108.13,36.0 L108.40,35.4 L108.65,35.8 L108.90,38.3 L109.10,47.5 L109.38,58.5 L109.66,46.7 L109.94,63.3 L110.22,48.9 L110.50,67.9 L110.75,51.5 L111.00,66.6 L111.25,51.2 L111.50,61.8 L111.75,50.2 L112.00,66.3 L112.25,53.2 L112.50,68.2 L112.75,49.5 L113.00,63.1 L113.25,53.5 L113.50,64.9 L113.75,49.9 L114.00,65.5 L114.25,50.2 L114.50,60.4 L114.75,50.4 L115.00,60.6 L115.25,51.6 L115.50,67.6 L115.75,50.1 L116.00,67.5 L116.25,48.4 L116.50,65.9 L116.75,50.7 L117.00,61.8 L117.25,51.4 L117.50,64.9 L117.75,45.6 L118.00,61.9 L118.25,52.6 L118.50,67.9 L118.76,51.2 L119.02,63.6 L119.28,56.3 L119.54,63.3 L119.80,60.6 L120.05,165.6 L120.30,266.8 L120.60,249.4 L120.90,229.4 L121.15,249.8 L121.40,266.6 L121.70,260.0 L122.00,247.4 L122.25,247.8 L122.50,232.7 L122.75,238.9 L123.00,233.7 L123.25,241.0 L123.50,230.9 L123.75,240.8 L124.00,228.4 L124.25,242.3 L124.50,230.0 L124.75,248.7 L125.00,236.2 L125.25,249.2 L125.50,236.5 L125.75,253.0 L126.00,238.2 L126.25,250.7 L126.50,241.8 L126.75,252.3 L127.00,237.1 L127.25,257.1 L127.50,240.4 L127.75,258.9 L128.00,242.1 L128.25,259.7 L128.50,250.2 L128.75,261.7 L129.00,261.1 L129.25,260.0 L129.50,251.4 L129.75,250.4 L130.00,238.5 L130.25,245.8 L130.50,231.5 L130.75,238.0 L131.00,227.6 L131.25,232.7 L131.50,224.2 L131.75,226.6 L132.00,219.8 L132.25,220.0 L132.50,214.5 L132.76,206.2 L133.02,193.0 L133.28,185.1 L133.54,172.1 L133.80,163.6 L134.05,159.7 L134.30,161.9 L134.55,159.0 L134.80,161.4 L135.05,158.5 L135.30,161.2 L135.55,158.9 L135.80,160.5 L136.05,157.8 L136.30,161.0 L136.55,157.7 L136.80,159.8 L137.20,149.1 L137.46,151.8 L137.72,149.1 L137.99,151.9 L138.25,148.5 L138.51,151.9 L138.78,148.7 L139.04,150.9 L139.30,148.8 L139.70,144.6 L139.96,141.3 L140.22,143.9 L140.49,140.5 L140.75,143.0 L141.01,141.0 L141.28,143.0 L141.54,140.0 L141.80,141.8 L142.20,131.5 L142.46,134.5 L142.72,131.6 L142.99,133.6 L143.25,130.6 L143.51,132.6 L143.78,129.9 L144.04,133.2 L144.30,129.1 L144.70,124.2 L144.96,120.9 L145.21,123.8 L145.47,121.1 L145.72,123.5 L145.98,120.5 L146.23,124.0 L146.49,120.3 L146.74,123.5 L147.00,120.7 L147.30,123.2 L147.60,121.6 L147.90,125.5 L148.20,119.3 L148.47,125.9 L148.73,122.3 L149.00,130.3 L149.25,129.1 L149.50,134.6 L149.75,145.9 L150.00,163.3 L150.25,173.8 L150.50,192.4 L150.75,188.9 L151.00,196.6 L151.25,192.4 L151.50,202.4 L151.75,197.3 L152.00,208.4 L152.25,198.8 L152.50,213.2 L152.75,203.0 L153.00,215.1 L153.25,208.5 L153.50,221.7 L153.75,209.9 L154.00,223.5 L154.25,219.8 L154.50,232.3 L154.75,216.7 L155.00,235.9 L155.25,220.8 L155.50,242.1 L155.75,227.3 L156.00,247.4 L156.25,228.7 L156.50,248.6 L156.75,236.5 L157.00,255.6 L157.25,235.4 L157.50,255.4 L157.75,244.6 L158.00,258.3 L158.25,236.7 L158.50,253.0 L158.75,243.2 L159.00,259.6 L159.25,252.1 L159.50,264.3 L159.75,258.6 L160.00,267.9 L160.25,266.7 L160.50,272.3 L160.75,266.6 L161.00,265.2 L161.25,255.6 L161.50,259.5 L161.75,248.8 L162.00,255.6 L162.25,245.7 L162.50,249.4 L162.75,240.5 L163.00,242.5 L163.25,233.7 L163.50,233.5 L163.75,223.2 L164.00,222.0 L164.25,214.2 L164.50,210.9 L164.75,198.4 L165.00,192.5 L165.25,179.7 L165.50,172.2 L165.75,161.0 L166.00,153.4 L166.25,149.8 L166.50,153.3 L166.75,150.3 L167.00,152.3 L167.25,149.5 L167.50,152.4 L167.75,147.9 L168.00,153.4 L168.25,147.4 L168.50,153.3 L168.75,147.9 L169.00,151.5 L169.25,145.1 L169.50,151.3 L169.75,143.9 L170.00,154.7 L170.25,146.2 L170.50,155.9 L170.75,143.8 L171.00,152.9 L171.25,144.9 L171.50,154.6 L171.75,142.3 L172.00,153.8 L172.25,141.5 L172.50,153.5 L172.75,143.7 L173.00,149.0 L173.25,136.2 L173.50,147.5 L173.75,138.7 L174.00,147.2 L174.25,137.4 L174.50,141.6 L174.75,136.9 L175.00,144.1 L175.25,136.6 L175.50,145.2 L175.75,135.4 L176.00,140.7 L176.25,136.1 L176.50,142.9 L176.75,135.2 L177.00,144.2 L177.25,133.8 L177.50,141.9 L177.75,133.9 L178.00,142.6 L178.25,136.1 L178.50,141.4 L178.75,137.7 L179.00,140.6 L179.25,138.6 L179.50,141.0 L179.75,153.5 L180.00,171.1 L180.25,183.2 L180.50,201.9 L180.75,213.2 L181.00,230.3 L181.25,243.2 L181.50,259.8 L181.75,255.3 L182.00,258.4 L182.25,253.3 L182.50,259.3 L182.75,248.3 L183.00,254.5 L183.25,248.1 L183.50,254.7 L183.75,238.4 L184.00,251.4 L184.25,243.0 L184.50,252.6 L184.75,240.5 L185.00,254.6 L185.25,239.1 L185.50,252.4 L185.75,242.0 L186.00,251.7 L186.25,240.6 L186.50,253.6 L186.75,239.5 L187.00,252.1 L187.25,243.6 L187.50,259.3 L187.75,245.4 L188.00,253.9 L188.25,237.5 L188.50,251.5 L188.75,236.3 L189.00,250.0 L189.25,241.2 L189.50,249.4 L189.75,238.1 L190.00,245.7 L190.25,237.1 L190.50,248.5 L190.75,239.3 L191.00,245.0 L191.25,232.5 L191.50,239.7 L191.75,228.4 L192.00,231.7 L192.25,222.4 L192.50,226.6 L192.75,216.3 L193.00,218.6 L193.25,212.2 L193.50,212.0 L193.75,189.3 L194.00,170.7 L194.25,149.3 L194.50,130.8 L194.75,128.4 L195.00,129.3 L195.25,126.1 L195.50,128.1 L195.75,121.9 L196.00,125.9 L196.25,120.9 L196.50,125.9 L196.75,117.4 L197.00,124.3 L197.25,114.4 L197.50,122.9 L197.75,113.3 L198.00,118.1 L198.25,110.3 L198.50,119.5 L198.75,108.8 L199.00,118.6 L199.25,108.7 L199.50,113.9 L199.75,104.7 L200.00,116.1 L200.25,103.4 L200.50,113.5 L200.75,101.1 L201.00,106.7 L201.25,100.1 L201.50,106.9 L201.75,91.9 L202.00,100.5 L202.25,89.9 L202.50,98.3 L202.75,89.5 L203.00,90.0 L203.26,83.2 L203.52,88.0 L203.78,80.5 L204.04,82.5 L204.30,77.4 L204.60,82.1 L204.90,78.9 L205.20,87.2 L205.50,81.1 L205.75,88.9 L206.00,86.2 L206.25,93.8 L206.50,87.1 L206.75,99.9 L207.00,92.9 L207.26,104.8 L207.52,102.9 L207.78,113.0 L208.04,112.3 L208.30,121.2 L208.55,198.5 L208.80,279.8 L209.05,278.5 L209.30,279.3 L209.55,262.8 L209.80,251.5 L210.08,247.1 L210.35,250.7 L210.62,244.6 L210.90,252.0 L211.18,243.3 L211.45,252.5 L211.72,243.0 L212.00,253.2 L212.25,240.6 L212.50,256.1 L212.75,243.4 L213.00,251.9 L213.25,240.3 L213.50,248.7 L213.75,240.5 L214.00,252.7 L214.25,237.6 L214.50,250.7 L214.75,242.3 L215.00,248.1 L215.25,236.9 L215.50,250.1 L215.75,237.8 L216.00,249.7 L216.25,236.5 L216.50,246.2 L216.75,237.0 L217.00,243.9 L217.25,239.3 L217.50,245.2 L217.75,238.4 L218.00,245.4 L218.25,237.5 L218.50,245.9 L218.75,236.8 L219.00,243.7 L219.25,236.5 L219.50,246.5 L219.75,234.9 L220.00,246.4 L220.25,235.6 L220.50,244.5 L220.75,238.1 L221.00,242.8 L221.25,234.8 L221.50,241.6 L221.75,235.1 L222.00,244.5 L222.25,235.1 L222.50,238.5 L222.75,230.6 L223.00,231.5 L223.25,224.5 L223.50,224.6 L223.75,218.1 L224.00,218.4 L224.25,211.8 L224.50,210.5 L224.76,197.0 L225.02,187.5 L225.28,174.1 L225.54,165.2 L225.80,150.8 L226.06,152.5 L226.32,149.2 L226.58,153.7 L226.83,149.4 L227.09,153.6 L227.35,149.7 L227.61,152.4 L227.87,149.2 L228.12,151.9 L228.38,146.1 L228.64,150.7 L228.90,144.6 L229.16,150.9 L229.42,143.7 L229.68,149.6 L229.93,143.2 L230.19,152.0 L230.45,143.7 L230.71,151.3 L230.97,143.9 L231.22,152.1 L231.48,142.3 L231.74,149.6 L232.00,139.9 L232.26,147.7 L232.52,139.7 L232.77,150.2 L233.03,139.2 L233.29,150.8 L233.55,140.1 L233.80,149.7 L234.06,142.6 L234.32,150.1 L234.58,137.6 L234.83,149.2 L235.09,140.2 L235.35,145.0 L235.61,138.1 L235.87,145.7 L236.12,137.6 L236.38,143.4 L236.64,136.4 L236.90,142.2 L237.15,134.3 L237.41,142.6 L237.67,134.4 L237.93,140.1 L238.18,133.4 L238.44,140.6 L238.70,133.1 L238.96,140.0 L239.21,135.7 L239.47,141.3 L239.73,136.8 L239.99,142.3 L240.24,139.5 L240.50,143.3 L240.75,147.6 L241.00,158.7 L241.25,163.5 L241.50,177.8 L241.75,179.7 L242.00,193.0 L242.25,189.2 L242.50,199.5 L242.75,195.6 L243.00,204.8 L243.25,200.3 L243.50,207.0 L243.75,203.3 L244.00,210.3 L244.25,205.8 L244.50,218.4 L244.75,210.1 L245.00,220.1 L245.25,220.8 L245.50,229.4 L245.75,222.2 L246.00,233.5 L246.25,225.9 L246.50,236.9 L246.75,227.3 L247.00,235.4 L247.25,226.1 L247.50,239.0 L247.75,228.6 L248.00,239.9 L248.25,230.3 L248.50,235.8 L248.75,230.8 L249.00,237.1 L249.25,229.4 L249.50,241.3 L249.75,231.9 L250.00,239.8 L250.25,231.1 L250.50,236.8 L250.75,228.9 L251.00,235.1 L251.25,224.9 L251.50,231.3 L251.75,223.1 L252.00,227.0 L252.25,221.1 L252.50,224.1 L252.75,218.0 L253.00,222.2 L253.25,214.0 L253.50,218.7 L253.75,212.9 L254.00,215.4 L254.25,210.1 L254.50,210.5 L254.76,198.3 L255.01,191.8 L255.27,178.4 L255.53,171.1 L255.79,159.5 L256.04,151.2 L256.30,139.5 L256.56,141.7 L256.83,138.1 L257.09,142.1 L257.36,139.2 L257.62,144.7 L257.89,138.4 L258.15,144.3 L258.41,137.8 L258.68,144.0 L258.94,138.6 L259.21,147.9 L259.47,139.7 L259.74,144.6 L260.00,140.3 L260.25,144.2 L260.50,136.9 L260.75,145.6 L261.00,131.8 L261.25,141.4 L261.50,130.8 L261.75,140.7 L262.00,128.8 L262.25,136.0 L262.50,130.9 L262.75,135.7 L263.00,127.9 L263.25,133.5 L263.50,124.1 L263.75,130.0 L264.00,123.8 L264.25,131.2 L264.50,122.5 L264.75,128.8 L265.00,123.8 L265.25,131.3 L265.50,123.0 L265.75,128.9 L266.00,118.1 L266.25,123.8 L266.50,117.3 L266.75,123.6 L267.00,114.4 L267.25,118.6 L267.50,112.1 L267.75,116.9 L268.00,110.4 L268.25,118.0 L268.50,110.4 L268.75,114.7 L269.00,108.4 L269.25,115.3 L269.50,109.7 L269.75,116.3 L270.00,110.5 L270.25,126.6 L270.50,130.0 L270.75,147.7 L271.00,152.1 L271.25,168.5 L271.50,176.0 L271.75,190.4 L272.00,196.1 L272.25,203.8 L272.50,201.9 L272.75,208.9 L273.00,201.7 L273.25,213.1 L273.50,204.2 L273.75,212.6 L274.00,206.5 L274.25,217.2 L274.50,214.3 L274.75,221.0 L275.00,216.6 L275.25,228.8 L275.50,217.8 L275.75,227.9 L276.00,221.1 L276.25,230.6 L276.50,222.9 L276.75,232.7 L277.00,222.6 L277.25,230.1 L277.50,225.0 L277.75,233.3 L278.00,226.0 L278.25,236.7 L278.50,226.8 L278.75,235.7 L279.00,226.5 L279.25,233.4 L279.50,224.6 L279.75,236.7 L280.00,223.6 L280.25,235.2 L280.50,229.1 L280.75,234.3 L281.00,225.2 L281.25,235.9 L281.50,225.4 L281.75,237.0 L282.00,228.6 L282.25,238.4 L282.50,226.1 L282.75,236.8 L283.00,227.8 L283.25,236.2 L283.50,224.4 L283.75,230.3 L284.00,224.1 L284.25,224.9 L284.50,219.3 L284.75,223.3 L285.00,217.0 L285.25,218.0 L285.50,212.6 L285.75,213.3 L286.00,209.6 L286.27,183.4 L286.53,154.4 L286.80,128.3 L287.07,99.0 L287.33,73.1 L287.60,44.5 L287.95,40.5 L288.30,33.4 L288.57,36.1 L288.83,36.2 L289.10,38.9 L289.50,43.0 L289.75,52.4 L290.00,43.2 L290.25,50.5 L290.50,40.5 L290.75,53.9 L291.00,41.2 L291.25,51.0 L291.50,44.0 L291.75,52.0 L292.00,45.9 L292.25,54.9 L292.50,43.0 L292.75,56.7 L293.00,46.0 L293.25,53.9 L293.50,42.9 L293.75,54.6 L294.00,45.4 L294.25,57.0 L294.50,42.7 L294.75,61.1 L295.00,48.5 L295.25,63.3 L295.50,46.2 L295.75,62.0 L296.00,48.5 L296.25,68.2 L296.50,54.5 L296.75,62.7 L297.00,49.8 L297.25,66.4 L297.50,45.8 L297.75,71.1 L298.00,47.6 L298.25,70.2 L298.50,57.5 L298.75,66.7 L299.00,53.5 L299.25,74.9 L299.50,49.2 L299.75,74.3 L300.00,58.2 L300.25,78.3 L300.50,76.4 L300.75,92.7 L301.00,98.3 L301.30,232.3 L301.58,230.7 L301.87,232.0 L302.15,228.1 L302.43,232.1 L302.72,226.0 L303.00,232.0 L303.25,224.8 L303.50,228.3 L303.75,223.5 L304.00,226.0 L304.25,221.0 L304.50,222.2 L304.75,218.6 L305.00,220.8 L305.25,217.3 L305.50,218.7 L305.75,211.4 L306.00,221.0 L306.25,203.5 L306.50,226.8 L306.75,205.7 L307.00,229.0 L307.25,207.7 L307.50,223.6 L307.75,210.5 L308.00,225.7 L308.25,211.3 L308.50,226.3 L308.75,211.9 L309.00,234.0 L309.25,211.8 L309.50,226.1 L309.75,208.5 L310.00,232.8 L310.25,208.7 L310.50,232.2 L310.75,215.9 L311.00,234.0 L311.25,214.9 L311.50,228.8 L311.75,208.9 L312.00,231.0 L312.25,213.2 L312.50,230.9 L312.75,208.1 L313.00,231.0 L313.25,210.6 L313.50,224.1 L313.75,208.6 L314.00,224.4 L314.25,214.5 L314.50,226.1 L314.80,238.0" fill="none" stroke="#0b6fc0" stroke-width="2.2" stroke-linejoin="round"/>
<path d="M41.90,236.4 L42.08,232.0 L42.37,222.5 L42.65,217.0 L42.93,208.3 L43.22,203.4 L43.50,193.8 L43.75,195.8 L44.00,192.5 L44.25,197.4 L44.50,189.4 L44.75,197.7 L45.00,192.7 L45.25,200.1 L45.50,193.3 L45.75,198.2 L46.00,190.4 L46.25,196.8 L46.50,191.1 L46.75,196.7 L47.00,191.6 L47.25,200.9 L47.50,190.6 L47.75,197.4 L48.00,191.6 L48.25,198.5 L48.50,191.6 L48.75,200.1 L49.00,190.0 L49.25,199.8 L49.50,188.2 L49.75,196.2 L50.00,191.2 L50.25,199.2 L50.50,187.1 L50.75,196.0 L51.00,186.9 L51.25,195.8 L51.50,189.4 L51.75,196.2 L52.00,187.7 L52.25,193.8 L52.50,189.4 L52.75,195.3 L53.00,186.8 L53.25,195.5 L53.50,188.8 L53.75,197.7 L54.00,188.6 L54.25,197.3 L54.50,188.0 L54.75,196.4 L55.00,189.1 L55.25,193.2 L55.50,185.8 L55.75,195.3 L56.00,189.0 L56.25,192.4 L56.50,184.9 L56.75,195.2 L57.00,184.8 L57.25,194.4 L57.50,187.0 L57.75,194.6 L58.00,183.8 L58.25,193.4 L58.50,188.0 L58.75,198.3 L59.00,189.1 L59.25,198.4 L59.50,193.1 L59.75,199.9 L60.00,197.9 L60.25,207.5 L60.50,208.1 L60.75,218.7 L61.00,214.6 L61.25,228.4 L61.50,224.6 L61.75,231.7 L62.00,224.5 L62.25,233.9 L62.50,227.4 L62.75,238.4 L63.00,226.5 L63.25,241.0 L63.50,228.1 L63.75,238.5 L64.00,229.7 L64.25,237.0 L64.50,226.9 L64.75,238.8 L65.00,230.5 L65.25,236.1 L65.50,231.1 L65.75,239.0 L66.00,229.9 L66.25,237.2 L66.50,226.1 L66.75,235.3 L67.00,228.5 L67.25,238.9 L67.50,229.0 L67.75,241.5 L68.00,232.9 L68.25,239.3 L68.50,232.5 L68.75,238.8 L69.00,233.3 L69.25,242.0 L69.50,224.3 L69.75,235.9 L70.00,224.7 L70.25,234.7 L70.50,225.1 L70.75,233.5 L71.00,228.4 L71.25,234.1 L71.50,223.6 L71.75,230.5 L72.00,221.1 L72.25,227.2 L72.50,218.7 L72.75,227.9 L73.00,221.2 L73.25,220.5 L73.50,213.7 L73.75,215.3 L74.00,206.7 L74.25,207.7 L74.50,200.3 L74.75,200.2 L75.00,192.6 L75.25,191.5 L75.50,186.2 L75.75,184.3 L76.00,179.5 L76.25,179.8 L76.50,174.0 L76.75,175.4 L77.00,168.5 L77.25,173.2 L77.50,165.6 L77.75,169.8 L78.00,163.8 L78.25,168.9 L78.50,159.1 L78.75,167.3 L79.00,158.2 L79.25,167.0 L79.50,158.9 L79.75,165.3 L80.00,152.7 L80.25,168.2 L80.50,154.8 L80.75,169.8 L81.00,157.5 L81.25,166.3 L81.50,156.9 L81.75,166.3 L82.00,153.6 L82.25,166.4 L82.50,154.1 L82.75,168.3 L83.00,156.3 L83.25,165.4 L83.50,152.2 L83.75,167.6 L84.00,154.2 L84.25,165.3 L84.50,151.4 L84.75,164.3 L85.00,153.6 L85.25,164.8 L85.50,152.6 L85.75,164.2 L86.00,152.2 L86.25,162.7 L86.50,154.8 L86.75,163.3 L87.00,150.7 L87.25,165.2 L87.50,150.7 L87.75,162.0 L88.00,153.6 L88.25,164.1 L88.50,161.3 L88.75,171.1 L89.00,170.9 L89.25,177.4 L89.50,178.5 L89.75,184.6 L90.00,184.1 L90.25,190.1 L90.50,189.6 L90.75,194.9 L91.00,194.9 L91.25,201.8 L91.50,200.2 L91.75,207.0 L92.00,203.9 L92.25,213.7 L92.50,212.0 L92.75,219.9 L93.00,213.7 L93.25,225.5 L93.50,222.9 L93.50,236.3 L93.75,228.2 L94.00,240.1 L94.25,224.1 L94.50,239.5 L94.75,224.0 L95.00,233.2 L95.25,228.1 L95.50,233.6 L95.75,223.5 L96.00,236.8 L96.25,227.8 L96.50,236.9 L96.75,228.2 L97.00,236.6 L97.25,224.0 L97.50,236.7 L97.75,225.9 L98.00,233.7 L98.25,227.9 L98.50,233.8 L98.75,225.8 L99.00,235.3 L99.25,226.1 L99.50,233.5 L99.75,224.0 L100.00,233.0 L100.00,216.6 L100.25,217.4 L100.50,211.8 L100.75,211.0 L101.00,204.2 L101.25,204.3 L101.50,198.2 L101.75,197.0 L102.00,189.8 L102.25,188.6 L102.50,181.9 L102.75,180.3 L103.00,173.7 L103.25,171.1 L103.50,164.6 L103.75,163.5 L104.00,156.6 L104.25,153.8 L104.50,147.7 L104.75,145.5 L105.00,139.5 L105.25,137.8 L105.50,130.8 L105.75,128.8 L106.00,122.2 L106.25,120.5 L106.50,113.9 L106.75,115.6 L107.00,101.9 L107.25,116.7 L107.50,102.5 L107.75,117.5 L108.00,105.7 L108.25,114.7 L108.50,104.4 L108.75,115.1 L109.00,100.1 L109.25,110.6 L109.50,101.2 L109.75,111.9 L110.00,100.0 L110.25,110.5 L110.50,94.9 L110.75,110.5 L111.00,101.8 L111.25,111.3 L111.50,98.5 L111.75,109.5 L112.00,100.8 L112.25,113.8 L112.50,93.3 L112.75,114.0 L113.00,99.8 L113.25,107.8 L113.50,91.8 L113.75,105.2 L114.00,98.0 L114.25,107.7 L114.50,94.0 L114.75,107.9 L115.00,94.2 L115.25,106.2 L115.50,85.9 L115.75,104.9 L116.00,89.5 L116.25,98.1 L116.50,82.2 L116.75,99.2 L117.00,86.0 L117.25,97.3 L117.50,90.1 L117.75,101.3 L118.00,94.5 L118.25,99.4 L118.50,98.7 L118.75,121.5 L119.00,138.1 L119.25,161.1 L119.50,179.3 L119.75,184.6 L120.00,183.3 L120.25,190.1 L120.50,187.9 L120.75,193.9 L121.00,193.1 L121.25,200.1 L121.50,199.6 L121.75,204.4 L122.00,202.7 L122.25,210.7 L122.50,209.2 L122.75,215.9 L123.00,211.6 L123.25,223.5 L123.50,218.1 L123.75,227.7 L124.00,222.0 L124.25,229.8 L124.50,226.2 L124.75,236.1 L125.00,230.3 L125.25,238.9 L125.50,226.7 L125.75,240.7 L126.00,229.4 L126.25,236.6 L126.50,230.8 L126.75,235.7 L127.00,226.0 L127.25,237.6 L127.50,225.7 L127.75,237.6 L128.00,226.1 L128.25,233.8 L128.50,226.0 L128.75,237.1 L129.00,230.6 L129.00,216.1 L129.25,211.7 L129.50,213.9 L129.75,210.2 L130.00,211.4 L130.25,206.6 L130.50,208.6 L130.75,203.8 L131.00,204.6 L131.25,201.3 L131.50,202.3 L131.75,199.0 L132.00,200.3 L132.25,195.6 L132.50,197.1 L132.75,192.8 L133.00,194.5 L133.25,190.2 L133.50,191.6 L133.75,187.5 L134.00,189.3 L134.25,184.7 L134.50,185.6 L134.75,181.9 L135.00,183.4 L135.25,178.0 L135.50,185.0 L135.75,178.2 L136.00,184.2 L136.25,176.0 L136.50,184.1 L136.75,175.7 L137.00,184.5 L137.25,173.5 L137.50,182.7 L137.75,172.6 L138.00,181.5 L138.25,171.9 L138.50,185.9 L138.75,171.8 L139.00,181.6 L139.25,174.8 L139.50,184.3 L139.75,175.9 L140.00,184.0 L140.25,175.6 L140.50,182.6 L140.75,170.0 L141.00,183.7 L141.25,174.6 L141.50,180.3 L141.75,172.7 L142.00,179.5 L142.25,165.7 L142.50,179.4 L142.75,166.8 L143.00,178.2 L143.25,169.4 L143.50,176.5 L143.75,165.3 L144.00,178.0 L144.25,167.9 L144.50,174.1 L144.75,167.6 L145.00,177.3 L145.25,165.2 L145.50,179.2 L145.75,168.7 L146.00,175.6 L146.25,164.7 L146.50,178.8 L146.75,167.3 L147.00,175.8 L147.25,167.6 L147.50,173.4 L147.75,163.7 L148.00,176.0 L148.25,167.6 L148.50,172.6 L148.75,164.5 L149.00,179.4 L149.25,168.6 L149.50,176.5 L149.75,171.5 L150.00,179.9 L150.25,176.1 L150.50,184.9 L150.75,175.5 L151.00,184.3 L151.25,178.6 L151.50,188.0 L151.75,182.2 L152.00,189.2 L152.25,186.3 L152.50,196.4 L152.75,191.7 L153.00,200.6 L153.25,199.3 L153.50,205.9 L153.75,201.7 L154.00,212.5 L154.25,209.6 L154.50,217.1 L154.75,214.1 L155.00,225.1 L155.25,219.2 L155.50,231.0 L155.75,220.9 L156.00,237.4 L156.25,223.5 L156.50,235.6 L156.75,225.8 L157.00,236.2 L157.25,226.1 L157.50,232.2 L157.75,228.1 L158.00,238.3 L158.25,228.9 L158.50,233.8 L158.75,226.6 L159.00,233.4 L159.25,225.3 L159.50,234.8 L159.75,227.2 L160.00,234.5 L160.25,220.5 L160.50,215.9 L160.75,210.6 L161.00,210.9 L161.25,205.9 L161.50,205.3 L161.75,199.4 L162.00,200.5 L162.25,194.6 L162.50,194.7 L162.75,189.8 L163.00,188.4 L163.25,184.2 L163.50,183.5 L163.75,178.1 L164.00,177.4 L164.25,172.7 L164.50,172.6 L164.75,167.4 L165.00,166.9 L165.25,162.3 L165.50,162.0 L165.75,155.9 L166.00,156.1 L166.25,150.7 L166.50,156.3 L166.75,145.2 L167.00,158.8 L167.25,146.7 L167.50,155.3 L167.75,143.3 L168.00,156.6 L168.25,146.0 L168.50,152.6 L168.75,145.1 L169.00,155.2 L169.25,144.5 L169.50,151.2 L169.75,142.7 L170.00,150.2 L170.25,138.7 L170.50,152.8 L170.75,142.4 L171.00,155.2 L171.25,143.4 L171.50,151.8 L171.75,143.3 L172.00,151.5 L172.25,143.3 L172.50,150.3 L172.75,139.4 L173.00,154.5 L173.25,138.7 L173.50,153.0 L173.75,138.6 L174.00,150.3 L174.25,137.8 L174.50,154.0 L174.75,134.5 L175.00,151.3 L175.25,134.8 L175.50,144.3 L175.75,136.4 L176.00,143.3 L176.25,136.4 L176.50,147.1 L176.75,131.2 L177.00,144.0 L177.25,134.6 L177.50,151.9 L177.75,140.3 L178.00,146.9 L178.25,137.9 L178.50,149.9 L178.75,138.7 L179.00,146.8 L179.25,143.8 L179.50,145.7 L179.75,149.1 L180.00,158.4 L180.25,160.5 L180.50,169.8 L180.75,172.9 L181.00,181.5 L181.25,182.1 L181.50,188.0 L181.75,186.6 L182.00,192.1 L182.25,191.1 L182.50,197.1 L182.75,195.6 L183.00,205.0 L183.25,200.3 L183.50,208.9 L183.75,208.5 L184.00,214.2 L184.25,212.9 L184.50,223.1 L184.75,216.7 L185.00,231.0 L185.25,222.5 L185.50,235.6 L185.75,230.3 L186.00,238.5 L186.25,229.1 L186.50,238.3 L186.75,228.2 L187.00,237.9 L187.25,228.9 L187.50,235.4 L187.75,225.7 L188.00,236.5 L188.25,228.1 L188.50,236.9 L188.75,228.8 L189.00,232.4 L189.25,225.2 L189.50,234.7 L189.75,226.1 L190.00,233.8 L190.25,217.2 L190.50,211.6 L190.75,204.7 L191.00,204.1 L191.25,197.6 L191.50,197.2 L191.75,192.0 L192.00,189.9 L192.25,183.9 L192.50,183.0 L192.75,177.9 L193.00,177.0 L193.25,170.9 L193.50,170.0 L193.75,164.5 L194.00,163.4 L194.25,156.1 L194.50,156.5 L194.75,150.3 L195.00,149.6 L195.25,142.7 L195.50,141.3 L195.75,135.4 L196.00,134.7 L196.25,128.7 L196.50,128.9 L196.75,122.7 L197.00,121.0 L197.25,116.5 L197.50,118.7 L197.75,112.7 L198.00,115.1 L198.25,104.8 L198.50,111.4 L198.75,102.7 L199.00,112.3 L199.25,100.6 L199.50,110.1 L199.75,99.0 L200.00,109.4 L200.25,100.2 L200.50,107.9 L200.75,98.3 L201.00,108.1 L201.25,96.4 L201.50,109.4 L201.75,96.8 L202.00,107.7 L202.25,97.0 L202.50,109.2 L202.75,99.6 L203.00,110.4 L203.25,99.3 L203.50,104.7 L203.75,95.3 L204.00,106.9 L204.25,90.8 L204.50,104.1 L204.75,89.8 L205.00,102.5 L205.25,94.4 L205.50,104.5 L205.75,90.7 L206.00,103.2 L206.25,87.3 L206.50,99.3 L206.75,90.7 L207.00,100.0 L207.25,91.7 L207.50,101.4 L207.75,94.9 L208.00,100.8 L208.25,95.7 L208.50,102.1 L208.75,97.5 L209.00,101.7 L209.25,109.9 L209.50,129.2 L209.75,137.9 L210.00,155.8 L210.25,165.3 L210.50,180.9 L210.75,180.6 L211.00,186.3 L211.25,184.8 L211.50,192.1 L211.75,190.0 L212.00,196.5 L212.25,195.6 L212.50,201.1 L212.75,198.9 L213.00,205.1 L213.25,202.0 L213.50,209.9 L213.75,204.9 L214.00,216.2 L214.25,209.8 L214.50,218.0 L214.75,213.6 L215.00,226.0 L215.25,220.3 L215.50,227.5 L215.75,224.6 L216.00,235.5 L216.25,224.2 L216.50,235.8 L216.75,222.3 L217.00,233.9 L217.25,222.0 L217.50,235.6 L217.75,225.7 L218.00,230.5 L218.25,224.6 L218.50,232.1 L218.75,225.2 L219.00,232.3 L219.25,226.1 L219.50,233.5 L219.75,223.3 L220.00,233.9 L220.25,217.4 L220.50,211.8 L220.75,207.0 L221.00,208.8 L221.25,205.2 L221.50,205.4 L221.75,202.5 L222.00,203.5 L222.25,199.4 L222.50,200.2 L222.75,197.1 L223.00,198.1 L223.25,194.0 L223.50,195.3 L223.75,191.7 L224.00,193.0 L224.25,189.2 L224.50,190.3 L224.75,186.2 L225.00,186.7 L225.25,182.7 L225.50,184.8 L225.75,180.6 L226.00,181.7 L226.25,178.6 L226.50,178.5 L226.75,176.6 L227.00,179.1 L227.25,174.7 L227.50,179.6 L227.75,174.4 L228.00,181.1 L228.25,172.1 L228.50,179.0 L228.75,170.8 L229.00,180.2 L229.25,170.4 L229.50,181.4 L229.75,166.0 L230.00,173.5 L230.25,165.3 L230.50,172.4 L230.75,165.8 L231.00,172.7 L231.25,162.6 L231.50,174.3 L231.75,162.8 L232.00,173.8 L232.25,168.6 L232.50,174.4 L232.75,164.5 L233.00,171.7 L233.25,166.3 L233.50,172.1 L233.75,164.4 L234.00,170.6 L234.25,163.5 L234.50,173.0 L234.75,163.1 L235.00,171.9 L235.25,161.6 L235.50,168.9 L235.75,160.0 L236.00,169.3 L236.25,162.7 L236.50,166.5 L236.75,157.2 L237.00,170.0 L237.25,158.3 L237.50,165.1 L237.75,156.5 L238.00,166.0 L238.25,155.8 L238.50,166.9 L238.75,152.0 L239.00,162.7 L239.25,156.6 L239.50,168.3 L239.75,165.8 L240.00,174.2 L240.25,173.9 L240.50,181.6 L240.75,181.2 L241.00,185.5 L241.25,184.1 L241.50,187.8 L241.75,186.1 L242.00,193.0 L242.25,189.8 L242.50,196.9 L242.75,193.1 L243.00,197.9 L243.25,197.1 L243.50,203.1 L243.75,198.6 L244.00,205.2 L244.25,202.8 L244.50,208.7 L244.75,205.6 L245.00,214.5 L245.25,207.6 L245.50,217.4 L245.75,213.8 L246.00,220.8 L246.25,215.4 L246.50,225.5 L246.75,220.8 L247.00,227.5 L247.25,221.9 L247.50,233.4 L247.75,227.5 L248.00,235.1 L248.25,228.4 L248.50,238.1 L248.75,227.7 L249.00,236.8 L249.25,224.5 L249.50,235.6 L249.75,225.7 L250.00,234.7 L250.25,225.1 L250.50,231.0 L250.75,227.3 L251.00,231.6 L250.75,218.3 L250.50,210.7 L250.75,205.7 L251.00,205.6 L251.25,201.4 L251.50,200.7 L251.75,196.1 L252.00,195.9 L252.25,191.8 L252.50,190.6 L252.75,186.9 L253.00,185.6 L253.25,181.3 L253.50,180.9 L253.75,175.7 L254.00,177.0 L254.25,170.9 L254.50,171.8 L254.75,167.0 L255.00,166.7 L255.25,160.7 L255.50,160.9 L255.75,155.9 L256.00,155.8 L256.25,151.3 L256.50,151.2 L256.75,147.4 L257.00,152.7 L257.25,148.3 L257.50,154.6 L257.75,145.9 L258.00,160.2 L258.25,148.5 L258.50,162.8 L258.75,152.3 L259.00,166.1 L259.25,150.1 L259.50,161.9 L259.75,155.1 L260.00,160.9 L260.25,151.0 L260.50,160.2 L260.75,151.2 L261.00,164.4 L261.25,144.8 L261.50,161.7 L261.75,148.2 L262.00,157.2 L262.25,144.6 L262.50,162.8 L262.75,147.3 L263.00,162.4 L263.25,144.7 L263.50,153.6 L263.75,142.1 L264.00,159.7 L264.25,140.9 L264.50,160.3 L264.75,142.6 L265.00,158.8 L265.25,140.6 L265.50,156.4 L265.75,143.4 L266.00,157.3 L266.25,138.8 L266.50,152.1 L266.75,145.6 L267.00,155.1 L267.25,138.4 L267.50,160.1 L267.75,142.5 L268.00,154.0 L268.25,139.7 L268.50,155.5 L268.75,136.6 L269.00,156.9 L269.25,140.5 L269.50,151.3 L269.75,143.0 L270.00,150.9 L270.25,144.3 L270.50,160.5 L270.75,157.8 L271.00,172.3 L271.25,171.7 L271.50,181.7 L271.75,180.4 L272.00,186.1 L272.25,186.0 L272.50,192.5 L272.75,190.3 L273.00,196.3 L273.25,194.0 L273.50,200.6 L273.75,199.5 L274.00,205.8 L274.25,204.1 L274.50,212.0 L274.75,208.7 L275.00,216.6 L275.25,213.1 L275.50,221.8 L275.75,217.4 L276.00,229.3 L276.25,223.5 L276.50,232.8 L276.75,222.4 L277.00,237.3 L277.25,228.6 L277.50,235.7 L277.75,223.9 L278.00,233.2 L278.25,227.4 L278.50,235.9 L278.75,225.0 L279.00,236.0 L279.25,226.8 L279.50,235.8 L279.75,228.7 L280.00,235.0 L280.25,227.2 L280.50,233.5 L280.75,228.7 L281.00,232.1 L281.25,228.1 L281.50,232.6 L281.75,225.6 L282.00,231.3 L282.00,203.6 L282.25,202.9 L282.50,198.1 L282.75,197.6 L283.00,191.0 L283.25,190.9 L283.50,185.2 L283.75,183.9 L284.00,178.3 L284.25,178.3 L284.50,172.8 L284.75,171.3 L285.00,166.8 L285.25,165.3 L285.50,159.6 L285.75,159.8 L286.00,154.3 L286.25,152.6 L286.50,148.2 L286.75,147.2 L287.00,140.7 L287.25,140.4 L287.50,135.6 L287.75,134.3 L288.00,129.0 L288.25,131.5 L288.50,124.9 L288.75,130.4 L289.00,120.9 L289.25,128.2 L289.50,121.3 L289.75,133.2 L290.00,118.4 L290.25,131.8 L290.50,115.9 L290.75,127.6 L291.00,117.8 L291.25,126.7 L291.50,114.1 L291.75,128.0 L292.00,114.0 L292.25,128.2 L292.50,108.3 L292.75,128.2 L293.00,114.4 L293.25,123.0 L293.50,109.7 L293.75,124.3 L294.00,114.2 L294.25,122.2 L294.50,111.3 L294.75,120.3 L295.00,111.8 L295.25,124.3 L295.50,102.4 L295.75,118.5 L296.00,99.0 L296.25,118.2 L296.50,105.1 L296.75,114.1 L297.00,101.1 L297.25,117.3 L297.50,95.9 L297.75,108.9 L298.00,101.2 L298.25,113.3 L298.50,104.5 L298.75,113.1 L299.00,105.5 L299.25,111.6 L299.50,104.9 L299.75,116.1 L300.00,107.5 L300.25,113.8 L300.50,102.3 L300.75,109.4 L301.00,104.3 L301.25,115.6 L301.50,118.0 L301.75,127.6 L302.00,128.6 L302.25,139.7 L302.50,142.6 L302.75,153.0 L303.00,156.6 L303.25,165.5 L303.50,169.3 L303.75,173.2 L304.00,173.1 L304.25,177.9 L304.50,176.3 L304.75,182.4 L305.00,179.7 L305.25,186.4 L305.50,182.5 L305.75,190.5 L306.00,187.5 L306.25,193.5 L306.50,191.7 L306.75,199.8 L307.00,197.7 L307.25,203.5 L307.50,201.9 L307.75,210.0 L308.00,208.3 L308.25,214.3 L308.50,210.7 L308.75,218.6 L309.00,212.8 L309.25,221.1 L309.50,216.0 L309.75,224.2 L310.00,219.8 L310.25,226.5 L310.50,223.9 L310.75,231.4 L311.00,227.1 L311.25,231.6 L311.50,228.7 L311.75,232.8 L312.00,230.9 L312.25,234.6 L312.50,233.0 L312.75,236.5 L313.00,233.6 L313.27,238.1 L313.53,235.8 L313.80,239.7 L314.07,238.8 L314.33,242.7 L314.60,241.3 L314.80,244.0" fill="none" stroke="#f2a676" stroke-width="2.5" stroke-linejoin="round"/>
<path d="M41.90,240.6 L42.10,227.5 L42.40,208.7 L42.70,194.8 L43.00,176.3 L43.25,179.5 L43.50,176.1 L43.75,179.5 L44.00,172.9 L44.25,179.1 L44.50,172.9 L44.75,177.4 L45.00,171.0 L45.25,175.5 L45.50,172.5 L45.75,174.8 L46.00,169.2 L46.25,174.6 L46.50,170.2 L46.75,173.3 L47.00,170.1 L47.25,173.4 L47.50,166.1 L47.75,170.3 L48.00,167.1 L48.25,171.6 L48.50,165.2 L48.75,171.1 L49.00,165.5 L49.25,169.9 L49.50,162.9 L49.75,169.3 L50.00,162.7 L50.25,168.3 L50.50,162.1 L50.75,167.0 L51.00,160.7 L51.25,164.8 L51.50,161.8 L51.75,166.9 L52.00,159.9 L52.25,165.1 L52.50,159.0 L52.75,164.6 L53.00,158.7 L53.25,164.2 L53.50,158.2 L53.75,164.9 L54.00,158.0 L54.25,163.8 L54.50,157.0 L54.75,161.4 L55.00,155.2 L55.25,162.3 L55.50,157.0 L55.75,160.3 L56.00,155.2 L56.25,158.7 L56.50,155.3 L56.75,158.1 L57.00,155.0 L57.25,157.3 L57.50,151.9 L57.75,159.0 L58.00,152.3 L58.25,163.9 L58.50,163.9 L58.75,171.3 L59.00,173.0 L59.25,183.9 L59.50,189.6 L59.75,202.8 L60.00,207.5 L60.25,220.0 L60.50,222.3 L60.75,231.2 L61.00,227.5 L61.25,234.2 L61.50,234.4 L61.75,241.4 L62.00,236.3 L62.25,243.7 L62.50,238.5 L62.75,243.9 L63.00,236.9 L63.25,242.1 L63.50,239.2 L63.75,244.6 L64.00,236.9 L64.25,242.4 L64.50,238.2 L64.75,245.0 L65.00,237.6 L65.25,244.7 L65.50,239.2 L65.75,243.2 L66.00,237.3 L66.25,243.3 L66.50,235.5 L66.75,242.1 L67.00,236.3 L67.25,243.2 L67.50,238.3 L67.75,241.0 L68.00,237.3 L68.25,243.0 L68.50,235.5 L68.75,242.1 L69.00,236.0 L69.25,241.3 L69.50,235.6 L69.75,240.2 L70.00,237.0 L70.25,240.7 L70.50,235.8 L70.75,240.6 L71.00,236.4 L71.25,241.6 L71.50,235.8 L71.75,242.9 L72.00,236.8 L72.25,241.2 L72.50,232.8 L72.75,235.1 L73.00,228.1 L73.25,228.5 L73.50,223.3 L73.75,219.8 L74.00,210.5 L74.25,205.8 L74.50,197.4 L74.75,192.9 L75.00,183.4 L75.25,179.9 L75.50,171.4 L75.75,171.3 L76.00,167.8 L76.25,167.6 L76.50,163.4 L76.75,164.1 L77.00,159.9 L77.25,162.5 L77.50,155.3 L77.75,158.5 L78.00,151.4 L78.25,153.9 L78.50,149.4 L78.75,151.9 L79.00,144.0 L79.25,146.7 L79.50,142.2 L79.75,144.3 L80.00,138.0 L80.25,143.2 L80.50,133.5 L80.75,139.6 L81.00,134.7 L81.25,140.4 L81.50,133.9 L81.75,139.6 L82.00,135.6 L82.25,138.7 L82.50,133.9 L82.75,141.9 L83.00,136.5 L83.25,139.7 L83.50,134.8 L83.75,139.0 L84.00,134.8 L84.25,141.0 L84.50,134.7 L84.75,139.8 L85.00,133.0 L85.25,139.2 L85.50,134.5 L85.75,140.7 L86.00,134.5 L86.25,138.2 L86.50,135.9 L86.75,138.6 L87.00,133.3 L87.25,139.0 L87.50,132.6 L87.75,138.8 L88.00,135.2 L88.25,138.5 L88.50,135.1 L88.75,144.9 L89.00,147.3 L89.25,157.9 L89.50,160.1 L89.75,169.5 L90.00,173.3 L90.25,184.6 L90.50,191.3 L90.75,203.1 L91.00,209.0 L91.25,220.0 L91.50,226.6 L91.75,230.7 L92.00,229.6 L92.25,236.7 L92.50,232.6 L92.75,241.6 L93.00,237.3 L93.25,240.8 L93.50,236.9 L93.75,242.3 L94.00,235.4 L94.25,242.1 L94.50,237.2 L94.75,240.7 L95.00,236.7 L95.25,241.6 L95.50,235.8 L95.75,240.6 L96.00,236.9 L96.25,240.4 L96.50,234.9 L96.75,241.3 L97.00,237.3 L97.25,241.8 L97.50,234.3 L97.75,241.7 L98.00,236.5 L98.25,239.2 L98.50,235.7 L98.75,239.1 L99.00,234.9 L99.25,238.3 L99.50,233.4 L99.75,238.5 L100.00,233.1 L100.25,237.1 L100.50,229.9 L100.75,233.1 L101.00,227.6 L101.25,228.6 L101.50,223.2 L101.75,222.4 L102.00,215.5 L102.25,213.8 L102.50,206.5 L102.75,204.9 L103.00,197.9 L103.25,195.6 L103.50,188.2 L103.75,183.1 L104.00,172.8 L104.25,167.2 L104.50,156.1 L104.75,151.9 L105.00,140.4 L105.25,135.1 L105.50,124.3 L105.75,119.2 L106.00,108.2 L106.25,109.7 L106.50,103.0 L106.75,105.1 L107.00,98.9 L107.25,101.7 L107.50,92.7 L107.75,97.1 L108.00,88.7 L108.25,94.3 L108.50,90.3 L108.75,93.6 L109.00,86.4 L109.25,93.4 L109.50,87.4 L109.75,94.7 L110.00,86.8 L110.25,91.7 L110.50,86.7 L110.75,91.8 L111.00,86.3 L111.25,90.8 L111.50,83.9 L111.75,91.1 L112.00,82.2 L112.25,87.9 L112.50,81.6 L112.75,89.2 L113.00,83.2 L113.25,88.4 L113.50,81.6 L113.75,85.3 L114.00,80.0 L114.25,86.6 L114.50,78.5 L114.75,84.9 L115.00,77.9 L115.25,85.3 L115.50,75.5 L115.75,81.2 L116.00,75.5 L116.25,83.2 L116.50,74.1 L116.75,82.0 L117.00,73.8 L117.25,79.4 L117.50,74.5 L117.75,80.5 L118.00,78.0 L118.25,81.9 L118.50,79.3 L118.75,101.9 L119.00,118.9 L119.25,141.1 L119.50,158.2 L119.75,168.8 L120.00,173.3 L120.25,182.3 L120.50,187.1 L120.75,196.9 L121.00,201.2 L121.25,210.2 L121.50,215.1 L121.75,223.8 L122.00,228.2 L122.25,232.8 L122.50,230.8 L122.75,235.5 L123.00,233.0 L123.25,238.4 L123.50,234.5 L123.75,240.8 L124.00,236.2 L124.25,242.8 L124.50,238.2 L124.75,245.6 L125.00,240.2 L125.25,246.5 L125.50,239.9 L125.75,246.7 L126.00,240.9 L126.25,246.4 L126.50,241.2 L126.75,244.7 L127.00,240.7 L127.25,244.7 L127.50,237.6 L127.75,244.6 L128.00,238.0 L128.25,242.3 L128.50,237.2 L128.75,242.0 L129.00,236.7 L129.25,240.7 L129.50,232.3 L129.75,232.2 L130.00,225.2 L130.25,225.6 L130.50,219.2 L130.75,219.5 L131.00,213.7 L131.25,213.3 L131.50,208.4 L131.75,208.3 L132.00,203.5 L132.25,203.5 L132.50,199.4 L132.75,199.5 L133.00,194.4 L133.25,193.5 L133.50,188.9 L133.75,189.0 L134.00,183.1 L134.25,183.3 L134.50,178.8 L134.75,178.7 L135.00,174.0 L135.25,176.8 L135.50,172.7 L135.75,177.3 L136.00,168.6 L136.25,177.1 L136.50,171.4 L136.75,177.4 L137.00,172.5 L137.25,177.0 L137.50,168.9 L137.75,176.6 L138.00,170.3 L138.25,177.6 L138.50,169.4 L138.75,177.0 L139.00,167.0 L139.25,172.8 L139.50,165.8 L139.75,175.6 L140.00,165.9 L140.25,172.8 L140.50,164.3 L140.75,174.8 L141.00,163.9 L141.25,175.7 L141.50,163.2 L141.75,173.6 L142.00,163.4 L142.25,173.5 L142.50,164.7 L142.75,172.3 L143.00,164.1 L143.25,169.0 L143.50,162.0 L143.75,172.0 L144.00,159.7 L144.25,170.5 L144.50,159.9 L144.75,169.5 L145.00,158.4 L145.25,167.9 L145.50,159.7 L145.75,168.9 L146.00,158.4 L146.25,166.1 L146.50,157.9 L146.75,164.4 L147.00,156.7 L147.25,166.9 L147.50,157.6 L147.75,168.9 L148.00,163.2 L148.25,168.1 L148.50,164.8 L148.75,171.4 L149.00,169.2 L149.25,175.5 L149.50,176.4 L149.75,184.0 L150.00,184.7 L150.25,191.8 L150.50,192.9 L150.75,199.6 L151.00,202.1 L151.25,208.2 L151.50,209.9 L151.75,217.1 L152.00,219.2 L152.25,224.5 L152.50,227.1 L152.75,229.4 L153.00,228.5 L153.25,232.2 L153.50,230.3 L153.75,235.0 L154.00,231.6 L154.25,234.3 L154.50,233.0 L154.75,237.7 L155.00,232.4 L155.25,239.4 L155.50,233.9 L155.75,241.6 L156.00,236.3 L156.25,240.9 L156.50,236.0 L156.75,241.6 L157.00,236.9 L157.25,240.4 L157.50,235.8 L157.75,241.7 L158.00,234.8 L158.25,241.0 L158.50,234.1 L158.75,240.2 L159.00,234.5 L159.25,240.8 L159.50,235.5 L159.75,241.3 L160.00,235.0 L160.25,238.6 L160.50,230.2 L160.75,232.7 L161.00,227.2 L161.25,228.8 L161.50,221.9 L161.75,223.8 L162.00,218.1 L162.25,218.0 L162.50,214.0 L162.75,212.6 L163.00,206.4 L163.25,205.0 L163.50,198.8 L163.75,197.8 L164.00,192.5 L164.25,190.9 L164.50,184.8 L164.75,184.2 L165.00,177.6 L165.25,176.5 L165.50,170.7 L165.75,170.2 L166.00,163.2 L166.25,164.9 L166.50,160.1 L166.75,164.1 L167.00,159.1 L167.25,162.0 L167.50,153.5 L167.75,158.7 L168.00,151.5 L168.25,159.8 L168.50,150.0 L168.75,155.7 L169.00,145.6 L169.25,154.3 L169.50,140.2 L169.75,146.7 L170.00,141.0 L170.25,146.6 L170.50,136.9 L170.75,142.2 L171.00,133.6 L171.25,138.7 L171.50,132.5 L171.75,138.6 L172.00,131.0 L172.25,133.6 L172.50,129.4 L172.75,133.9 L173.00,125.9 L173.25,130.2 L173.50,123.9 L173.75,129.2 L174.00,121.8 L174.25,126.0 L174.50,118.1 L174.75,125.0 L175.00,117.3 L175.25,120.6 L175.50,114.8 L175.75,120.0 L176.00,111.5 L176.25,119.2 L176.50,111.7 L176.75,118.6 L177.00,112.6 L177.25,117.8 L177.50,115.2 L177.75,119.2 L178.00,115.4 L178.25,121.9 L178.50,116.3 L178.75,123.9 L179.00,118.1 L179.25,128.9 L179.50,129.8 L179.75,141.7 L180.00,143.1 L180.25,152.1 L180.50,155.8 L180.75,165.2 L181.00,168.9 L181.25,179.4 L181.50,183.4 L181.75,193.3 L182.00,199.1 L182.25,208.2 L182.50,214.1 L182.75,224.2 L183.00,229.2 L183.25,232.8 L183.50,231.2 L183.75,235.4 L184.00,232.3 L184.25,236.3 L184.50,234.1 L184.75,238.9 L185.00,235.8 L185.25,241.1 L185.50,238.5 L185.75,242.9 L186.00,239.8 L186.25,245.4 L186.50,241.2 L186.75,244.1 L187.00,239.9 L187.25,243.2 L187.50,238.4 L187.75,243.4 L188.00,237.2 L188.25,244.5 L188.50,239.1 L188.75,241.7 L189.00,237.6 L189.25,243.2 L189.50,234.8 L189.75,241.9 L190.00,235.8 L190.25,239.2 L190.50,230.4 L190.75,232.9 L191.00,224.9 L191.25,226.6 L191.50,218.8 L191.75,219.9 L192.00,214.8 L192.25,214.3 L192.50,208.2 L192.75,204.2 L193.00,195.5 L193.25,191.1 L193.50,181.6 L193.75,176.9 L194.00,167.5 L194.25,163.7 L194.50,154.4 L194.75,148.7 L195.00,140.3 L195.25,135.9 L195.50,126.5 L195.75,122.2 L196.00,112.2 L196.25,108.0 L196.50,99.0 L196.75,99.3 L197.00,94.9 L197.25,98.1 L197.50,93.7 L197.75,95.2 L198.00,88.0 L198.25,92.9 L198.50,86.0 L198.75,90.9 L199.00,83.9 L199.25,89.0 L199.50,83.7 L199.75,87.4 L200.00,81.3 L200.25,89.1 L200.50,83.3 L200.75,87.9 L201.00,82.8 L201.25,87.2 L201.50,80.4 L201.75,86.4 L202.00,82.3 L202.25,87.0 L202.50,81.5 L202.75,86.7 L203.00,80.8 L203.25,85.8 L203.50,80.7 L203.75,87.1 L204.00,80.6 L204.25,84.9 L204.50,80.9 L204.75,86.2 L205.00,79.5 L205.25,86.8 L205.50,81.0 L205.75,85.9 L206.00,81.8 L206.25,84.5 L206.50,79.5 L206.75,84.2 L207.00,79.7 L207.25,86.9 L207.50,82.6 L207.75,87.8 L208.00,82.7 L208.25,88.5 L208.50,84.2 L208.75,87.2 L209.00,83.1 L209.25,99.8 L209.50,109.2 L209.75,123.8 L210.00,134.2 L210.25,148.6 L210.50,159.0 L210.75,167.2 L211.00,171.4 L211.25,180.6 L211.50,184.0 L211.75,194.1 L212.00,198.0 L212.25,206.9 L212.50,210.1 L212.75,219.1 L213.00,223.6 L213.25,227.4 L213.50,225.8 L213.75,229.0 L214.00,227.8 L214.25,231.0 L214.50,228.4 L214.75,231.3 L215.00,228.6 L215.25,235.0 L215.50,231.6 L215.75,238.1 L216.00,234.5 L216.25,237.9 L216.50,233.0 L216.75,239.3 L217.00,231.8 L217.25,236.7 L217.50,232.8 L217.75,235.9 L218.00,230.9 L218.25,234.8 L218.50,229.2 L218.75,237.0 L219.00,231.2 L219.25,234.1 L219.50,230.1 L219.75,236.3 L220.00,229.9 L220.25,231.7 L220.50,224.6 L220.75,227.3 L221.00,220.6 L221.25,222.8 L221.50,218.0 L221.75,218.3 L222.00,213.5 L222.25,213.4 L222.50,208.9 L222.75,209.6 L223.00,203.6 L223.25,204.4 L223.50,199.6 L223.75,200.7 L224.00,195.4 L224.25,196.3 L224.50,191.0 L224.75,190.9 L225.00,186.9 L225.25,187.7 L225.50,182.5 L225.75,183.3 L226.00,178.2 L226.25,179.1 L226.50,174.0 L226.75,176.8 L227.00,174.3 L227.25,180.7 L227.50,173.9 L227.75,180.1 L228.00,176.0 L228.25,180.4 L228.50,172.6 L228.75,181.7 L229.00,173.0 L229.25,181.0 L229.50,173.5 L229.75,179.0 L230.00,171.6 L230.25,176.6 L230.50,167.5 L230.75,175.9 L231.00,168.1 L231.25,174.3 L231.50,166.8 L231.75,174.3 L232.00,165.9 L232.25,172.6 L232.50,163.9 L232.75,173.0 L233.00,163.9 L233.25,171.2 L233.50,163.2 L233.75,169.0 L234.00,161.6 L234.25,166.1 L234.50,159.2 L234.75,166.0 L235.00,159.4 L235.25,166.9 L235.50,156.1 L235.75,163.9 L236.00,157.5 L236.25,164.1 L236.50,156.5 L236.75,160.2 L237.00,156.1 L237.25,160.7 L237.50,155.4 L237.75,161.4 L238.00,151.0 L238.25,160.5 L238.50,153.5 L238.75,159.0 L239.00,152.2 L239.25,160.6 L239.50,156.1 L239.75,163.9 L240.00,163.6 L240.25,169.7 L240.50,169.3 L240.75,175.4 L241.00,176.4 L241.25,181.7 L241.50,182.9 L241.75,190.0 L242.00,191.0 L242.25,196.1 L242.50,197.9 L242.75,204.5 L243.00,204.8 L243.25,211.7 L243.50,212.0 L243.75,218.6 L244.00,219.2 L244.25,225.4 L244.50,226.4 L244.75,230.3 L245.00,228.7 L245.25,232.6 L245.50,228.7 L245.75,233.6 L246.00,229.6 L246.25,235.8 L246.50,230.8 L246.75,236.9 L247.00,234.0 L247.25,238.1 L247.50,234.8 L247.75,240.1 L248.00,233.9 L248.25,239.7 L248.50,232.1 L248.75,238.2 L249.00,233.4 L249.25,239.0 L249.50,231.7 L249.75,238.5 L250.00,232.7 L250.25,235.5 L250.50,229.8 L250.75,235.2 L251.00,231.7 L251.25,231.8 L251.50,225.7 L251.75,224.5 L252.00,217.1 L252.25,215.1 L252.50,208.3 L252.75,206.7 L253.00,199.5 L253.25,196.8 L253.50,189.4 L253.75,187.4 L254.00,181.2 L254.25,177.7 L254.50,170.5 L254.75,169.3 L255.00,161.4 L255.25,160.0 L255.50,153.1 L255.75,149.9 L256.00,143.8 L256.25,141.0 L256.50,133.5 L256.75,136.5 L257.00,131.9 L257.25,133.3 L257.50,129.1 L257.75,131.8 L258.00,128.3 L258.25,132.7 L258.50,126.1 L258.75,133.8 L259.00,127.9 L259.25,132.3 L259.50,125.9 L259.75,131.3 L260.00,125.0 L260.25,129.3 L260.50,124.7 L260.75,129.0 L261.00,121.4 L261.25,123.8 L261.50,118.9 L261.75,125.4 L262.00,118.2 L262.25,122.8 L262.50,117.9 L262.75,122.4 L263.00,113.9 L263.25,118.4 L263.50,114.6 L263.75,119.0 L264.00,111.1 L264.25,116.2 L264.50,110.6 L264.75,115.4 L265.00,110.0 L265.25,115.4 L265.50,109.3 L265.75,115.2 L266.00,110.3 L266.25,114.8 L266.50,107.5 L266.75,116.8 L267.00,110.4 L267.25,116.7 L267.50,109.4 L267.75,114.2 L268.00,110.5 L268.25,116.4 L268.50,110.5 L268.75,114.1 L269.00,108.6 L269.25,122.1 L269.50,122.2 L269.75,135.2 L270.00,138.4 L270.25,150.1 L270.50,153.6 L270.75,164.1 L271.00,168.7 L271.25,176.8 L271.50,178.9 L271.75,187.0 L272.00,188.2 L272.25,195.9 L272.50,199.4 L272.75,206.0 L273.00,208.9 L273.25,216.2 L273.50,218.6 L273.75,225.6 L274.00,228.6 L274.25,231.8 L274.50,229.4 L274.75,233.6 L275.00,230.5 L275.25,234.2 L275.50,231.5 L275.75,235.7 L276.00,232.7 L276.25,237.6 L276.50,234.2 L276.75,238.9 L277.00,236.3 L277.25,240.5 L277.50,234.1 L277.75,240.7 L278.00,235.9 L278.25,241.0 L278.50,235.7 L278.75,238.6 L279.00,233.1 L279.25,240.8 L279.50,234.9 L279.75,238.3 L280.00,234.9 L280.25,237.8 L280.50,233.5 L280.75,237.0 L281.00,231.6 L281.25,237.7 L281.50,232.6 L281.75,238.3 L282.00,233.2 L282.25,234.3 L282.50,224.8 L282.75,225.2 L283.00,217.1 L283.25,218.5 L283.50,211.1 L283.75,210.9 L284.00,203.2 L284.25,200.7 L284.50,192.4 L284.75,188.7 L285.00,180.8 L285.25,176.5 L285.50,168.4 L285.75,165.9 L286.00,157.0 L286.25,154.4 L286.50,146.0 L286.75,142.5 L287.00,133.7 L287.25,130.0 L287.50,122.7 L287.75,119.4 L288.00,110.6 L288.25,113.2 L288.50,110.2 L288.75,115.9 L289.00,109.6 L289.25,114.0 L289.50,107.2 L289.75,114.5 L290.00,106.6 L290.25,113.6 L290.50,100.3 L290.75,108.8 L291.00,101.4 L291.25,107.7 L291.50,101.5 L291.75,105.2 L292.00,99.7 L292.25,104.3 L292.50,99.0 L292.75,102.3 L293.00,99.2 L293.25,105.4 L293.50,96.4 L293.75,101.5 L294.00,96.7 L294.25,103.7 L294.50,94.1 L294.75,100.4 L295.00,93.1 L295.25,101.0 L295.50,91.0 L295.75,96.6 L296.00,90.9 L296.25,95.8 L296.50,89.3 L296.75,94.4 L297.00,84.8 L297.25,93.1 L297.50,86.9 L297.75,92.9 L298.00,82.1 L298.25,91.7 L298.50,83.2 L298.75,91.8 L299.00,83.0 L299.25,88.1 L299.50,83.3 L299.75,87.6 L300.00,82.4 L300.25,86.1 L300.50,80.7 L300.75,88.2 L301.00,82.2 L301.25,97.5 L301.50,104.8 L301.75,119.9 L302.00,126.4 L302.25,140.3 L302.50,148.2 L302.75,161.1 L303.00,166.3 L303.25,178.8 L303.50,182.7 L303.75,192.7 L304.00,190.5 L304.25,198.6 L304.50,194.0 L304.75,204.2 L305.00,200.7 L305.25,207.7 L305.50,206.4 L305.75,213.4 L306.00,211.2 L306.25,218.1 L306.50,212.8 L306.75,219.3 L307.00,214.3 L307.25,222.1 L307.50,217.8 L307.75,226.6 L308.00,221.4 L308.25,227.3 L308.50,224.9 L308.75,228.2 L309.00,226.5 L309.25,229.6 L309.50,226.6 L309.75,230.7 L310.00,228.0 L310.25,230.3 L310.50,228.1 L310.75,231.3 L311.00,230.2 L311.25,233.3 L311.50,229.9 L311.75,233.1 L312.00,231.2 L312.27,235.7 L312.55,233.5 L312.82,236.3 L313.10,234.8 L313.38,238.6 L313.65,236.4 L313.93,240.4 L314.20,238.2 L314.50,244.0" fill="none" stroke="#d9541c" stroke-width="2.5" stroke-linejoin="round"/>
<path d="M41.90,238.7 L42.08,233.8 L42.37,222.6 L42.65,218.0 L42.93,207.0 L43.22,201.5 L43.50,190.8 L43.75,194.0 L44.00,191.0 L44.25,197.2 L44.50,188.7 L44.75,193.9 L45.00,187.5 L45.25,194.8 L45.50,189.9 L45.75,193.9 L46.00,188.7 L46.25,193.0 L46.50,187.5 L46.75,195.8 L47.00,186.6 L47.25,193.4 L47.50,187.2 L47.75,193.7 L48.00,187.4 L48.25,195.0 L48.50,185.3 L48.75,194.2 L49.00,186.5 L49.25,192.8 L49.50,185.3 L49.75,191.2 L50.00,183.4 L50.25,191.9 L50.50,182.3 L50.75,192.5 L51.00,184.5 L51.25,191.6 L51.50,181.8 L51.75,188.7 L52.00,181.0 L52.25,189.7 L52.50,180.9 L52.75,187.7 L53.00,180.6 L53.25,185.3 L53.50,181.6 L53.75,185.0 L54.00,177.9 L54.25,186.3 L54.50,180.5 L54.75,185.3 L55.00,179.9 L55.25,184.7 L55.50,178.9 L55.75,188.2 L56.00,181.0 L56.25,185.6 L56.50,179.7 L56.75,187.3 L57.00,178.8 L57.25,183.9 L57.50,176.3 L57.75,183.4 L58.00,177.0 L58.25,186.3 L58.50,181.0 L58.75,187.9 L59.00,185.3 L59.25,190.9 L59.50,185.3 L59.75,192.4 L60.00,188.9 L60.25,192.9 L60.50,191.5 L60.75,198.7 L61.00,201.8 L61.25,213.2 L61.50,214.4 L61.75,225.0 L62.00,224.6 L62.25,236.2 L62.50,235.1 L62.75,243.3 L63.00,235.5 L63.25,242.5 L63.50,236.0 L63.75,242.5 L64.00,233.2 L64.25,243.9 L64.50,234.6 L64.75,240.0 L65.00,234.6 L65.25,243.3 L65.50,234.2 L65.75,240.1 L66.00,233.9 L66.25,240.7 L66.50,231.1 L66.75,238.3 L67.00,231.6 L67.25,239.9 L67.50,233.9 L67.75,238.1 L68.00,231.2 L68.25,239.5 L68.50,232.2 L68.75,238.5 L69.00,231.7 L69.25,240.2 L69.50,233.5 L69.75,239.3 L70.00,235.5 L70.25,240.5 L70.50,233.8 L70.75,238.5 L71.00,235.1 L71.25,239.5 L71.50,233.2 L71.75,239.8 L72.00,232.4 L72.25,234.1 L72.50,224.2 L72.75,222.4 L73.00,216.0 L73.25,213.9 L73.50,207.3 L73.75,206.7 L74.00,199.1 L74.25,197.2 L74.50,190.6 L74.75,189.1 L75.00,181.8 L75.25,180.0 L75.50,174.2 L75.75,174.6 L76.00,170.4 L76.25,171.5 L76.50,166.5 L76.75,169.3 L77.00,162.8 L77.25,166.9 L77.50,160.6 L77.75,163.8 L78.00,157.4 L78.25,159.4 L78.50,155.5 L78.75,158.7 L79.00,151.9 L79.25,154.6 L79.50,147.9 L79.75,153.3 L80.00,142.4 L80.25,154.7 L80.50,141.1 L80.75,150.2 L81.00,139.8 L81.25,150.7 L81.50,137.9 L81.75,148.4 L82.00,140.4 L82.25,146.8 L82.50,140.8 L82.75,147.9 L83.00,141.1 L83.25,145.5 L83.50,138.1 L83.75,148.1 L84.00,137.5 L84.25,146.8 L84.50,135.3 L84.75,143.6 L85.00,137.0 L85.25,144.6 L85.50,138.5 L85.75,147.3 L86.00,139.9 L86.25,143.4 L86.50,138.7 L86.75,146.5 L87.00,135.7 L87.25,144.6 L87.50,138.3 L87.75,144.7 L88.00,137.3 L88.25,149.5 L88.50,146.8 L88.75,163.3 L89.00,161.2 L89.25,171.4 L89.50,173.0 L89.75,180.7 L90.00,182.2 L90.25,189.1 L90.50,190.8 L90.75,198.2 L91.00,199.5 L91.25,207.5 L91.50,209.0 L91.75,215.7 L92.00,217.3 L92.25,224.5 L92.50,226.2 L92.75,234.9 L93.00,236.5 L93.25,239.7 L93.50,233.8 L93.75,242.8 L94.00,233.7 L94.25,239.9 L94.50,234.0 L94.75,240.3 L95.00,235.1 L95.25,240.0 L95.50,234.1 L95.75,239.7 L96.00,232.2 L96.25,241.1 L96.50,232.8 L96.75,240.3 L97.00,234.6 L97.25,239.6 L97.50,233.0 L97.75,240.4 L98.00,231.8 L98.25,237.9 L98.50,234.3 L98.75,238.7 L99.00,231.9 L99.25,237.1 L99.50,234.1 L99.75,238.0 L100.00,233.5 L100.25,233.5 L100.50,225.0 L100.75,224.1 L101.00,216.7 L101.25,215.4 L101.50,208.6 L101.75,207.4 L102.00,202.1 L102.25,199.4 L102.50,193.1 L102.75,189.9 L103.00,179.3 L103.25,175.0 L103.50,166.1 L103.75,161.5 L104.00,152.9 L104.25,148.0 L104.50,139.3 L104.75,134.2 L105.00,125.2 L105.25,120.0 L105.50,110.6 L105.75,107.6 L106.00,97.0 L106.25,93.7 L106.50,84.0 L106.75,84.7 L107.00,81.5 L107.25,84.4 L107.50,77.9 L107.75,82.7 L108.00,76.4 L108.25,82.5 L108.50,74.2 L108.75,81.4 L109.00,72.7 L109.25,78.3 L109.50,73.4 L109.75,79.4 L110.00,71.9 L110.25,76.8 L110.50,73.5 L110.75,78.6 L111.00,72.6 L111.25,75.7 L111.50,69.3 L111.75,76.6 L112.00,69.1 L112.25,76.7 L112.50,70.3 L112.75,74.2 L113.00,66.1 L113.25,74.1 L113.50,68.5 L113.75,71.1 L114.00,66.3 L114.25,72.4 L114.50,66.0 L114.75,70.5 L115.00,64.6 L115.25,69.3 L115.50,64.7 L115.75,69.7 L116.00,63.5 L116.25,69.2 L116.50,62.5 L116.75,70.0 L117.00,61.8 L117.25,69.4 L117.50,65.7 L117.75,69.4 L118.00,66.9 L118.25,71.7 L118.50,68.8 L118.75,97.0 L119.00,118.2 L119.25,145.6 L119.50,168.7 L119.75,176.4 L120.00,176.9 L120.25,183.8 L120.50,185.8 L120.75,193.5 L121.00,195.7 L121.25,202.3 L121.50,203.6 L121.75,210.6 L122.00,212.9 L122.25,219.3 L122.50,222.2 L122.75,228.1 L123.00,230.5 L123.25,235.1 L123.50,232.2 L123.75,238.0 L124.00,234.7 L124.25,241.6 L124.50,234.2 L124.75,244.7 L125.00,236.7 L125.25,244.9 L125.50,238.9 L125.75,242.5 L126.00,236.9 L126.25,243.0 L126.50,234.9 L126.75,243.9 L127.00,237.1 L127.25,243.1 L127.50,236.5 L127.75,243.1 L128.00,236.0 L128.25,242.6 L128.50,234.4 L128.75,240.8 L129.00,235.9 L129.25,233.6 L129.50,223.2 L129.75,222.5 L130.00,214.4 L130.25,214.5 L130.50,209.4 L130.75,209.1 L131.00,204.1 L131.25,204.1 L131.50,200.2 L131.75,199.6 L132.00,194.3 L132.25,194.6 L132.50,190.7 L132.75,190.2 L133.00,185.6 L133.25,185.5 L133.50,180.8 L133.75,180.9 L134.00,176.3 L134.25,176.8 L134.50,171.7 L134.75,170.9 L135.00,167.2 L135.25,169.7 L135.50,165.1 L135.75,171.0 L136.00,161.6 L136.25,169.7 L136.50,161.1 L136.75,167.0 L137.00,159.3 L137.25,168.5 L137.50,161.6 L137.75,166.8 L138.00,159.9 L138.25,168.7 L138.50,160.3 L138.75,168.3 L139.00,158.9 L139.25,164.4 L139.50,157.3 L139.75,166.0 L140.00,158.5 L140.25,163.6 L140.50,156.9 L140.75,163.5 L141.00,154.3 L141.25,160.3 L141.50,153.6 L141.75,161.4 L142.00,151.2 L142.25,160.9 L142.50,150.5 L142.75,158.8 L143.00,147.8 L143.25,155.2 L143.50,150.6 L143.75,154.8 L144.00,147.5 L144.25,152.8 L144.50,145.5 L144.75,154.0 L145.00,145.6 L145.25,151.7 L145.50,147.3 L145.75,152.5 L146.00,144.8 L146.25,152.8 L146.50,143.9 L146.75,153.0 L147.00,142.1 L147.25,151.1 L147.50,142.1 L147.75,149.6 L148.00,140.1 L148.25,153.8 L148.50,152.9 L148.75,159.9 L149.00,161.8 L149.25,170.4 L149.50,171.1 L149.75,177.1 L150.00,176.7 L150.25,182.4 L150.50,183.4 L150.75,189.2 L151.00,189.8 L151.25,195.8 L151.50,196.0 L151.75,202.4 L152.00,202.4 L152.25,208.5 L152.50,210.1 L152.75,215.4 L153.00,216.1 L153.25,221.4 L153.50,221.7 L153.75,228.3 L154.00,228.1 L154.25,233.3 L154.50,230.3 L154.75,236.6 L155.00,232.8 L155.25,239.2 L155.50,233.5 L155.75,239.8 L156.00,234.7 L156.25,239.6 L156.50,234.6 L156.75,238.1 L157.00,232.3 L157.25,241.5 L157.50,234.2 L157.75,238.9 L158.00,233.8 L158.25,240.6 L158.50,231.3 L158.75,238.4 L159.00,233.5 L159.25,238.6 L159.50,234.5 L159.75,239.8 L160.00,233.0 L160.25,234.0 L160.50,227.5 L160.75,226.3 L161.00,220.4 L161.25,220.5 L161.50,213.2 L161.75,212.2 L162.00,204.8 L162.25,204.2 L162.50,197.6 L162.75,195.7 L163.00,188.4 L163.25,187.4 L163.50,179.9 L163.75,178.9 L164.00,171.4 L164.25,171.0 L164.50,163.5 L164.75,161.4 L165.00,155.6 L165.25,153.9 L165.50,146.6 L165.75,145.0 L166.00,138.7 L166.25,140.9 L166.50,135.6 L166.75,137.4 L167.00,131.5 L167.25,136.4 L167.50,130.5 L167.75,132.3 L168.00,123.5 L168.25,131.4 L168.50,125.6 L168.75,134.7 L169.00,127.5 L169.25,133.8 L169.50,126.7 L169.75,130.5 L170.00,125.2 L170.25,130.6 L170.50,125.2 L170.75,132.4 L171.00,122.4 L171.25,128.5 L171.50,120.3 L171.75,129.0 L172.00,121.6 L172.25,127.8 L172.50,120.7 L172.75,125.9 L173.00,120.5 L173.25,125.7 L173.50,119.0 L173.75,126.2 L174.00,119.2 L174.25,128.9 L174.50,118.4 L174.75,125.8 L175.00,120.5 L175.25,128.8 L175.50,122.6 L175.75,130.0 L176.00,120.6 L176.25,131.0 L176.50,121.9 L176.75,127.6 L177.00,124.3 L177.25,131.3 L177.50,124.9 L177.75,128.4 L178.00,123.2 L178.25,130.3 L178.50,125.1 L178.75,132.9 L179.00,122.4 L179.25,137.1 L179.50,135.5 L179.75,148.4 L180.00,148.4 L180.25,159.8 L180.50,160.5 L180.75,171.3 L181.00,173.7 L181.25,181.2 L181.50,182.9 L181.75,189.8 L182.00,191.8 L182.25,199.3 L182.50,200.7 L182.75,208.9 L183.00,210.2 L183.25,217.6 L183.50,220.0 L183.75,226.4 L184.00,228.5 L184.25,232.7 L184.50,231.4 L184.75,235.7 L185.00,233.2 L185.25,241.3 L185.50,234.2 L185.75,242.8 L186.00,236.8 L186.25,246.5 L186.50,238.9 L186.75,245.0 L187.00,235.6 L187.25,244.6 L187.50,235.3 L187.75,240.1 L188.00,236.8 L188.25,242.7 L188.50,234.2 L188.75,241.5 L189.00,233.2 L189.25,239.8 L189.50,235.3 L189.75,240.3 L190.00,234.9 L190.25,234.0 L190.50,224.8 L190.75,225.5 L191.00,217.4 L191.25,215.8 L191.50,208.3 L191.75,206.9 L192.00,198.7 L192.25,197.3 L192.50,189.9 L192.75,187.0 L193.00,180.6 L193.25,178.3 L193.50,170.7 L193.75,168.7 L194.00,161.6 L194.25,158.0 L194.50,151.5 L194.75,148.5 L195.00,142.3 L195.25,139.7 L195.50,132.2 L195.75,130.8 L196.00,122.6 L196.25,120.7 L196.50,112.7 L196.75,111.1 L197.00,103.1 L197.25,104.8 L197.50,100.6 L197.75,101.0 L198.00,96.2 L198.25,97.9 L198.50,89.5 L198.75,97.4 L199.00,87.4 L199.25,93.7 L199.50,85.5 L199.75,93.6 L200.00,87.6 L200.25,95.3 L200.50,84.8 L200.75,93.7 L201.00,87.4 L201.25,97.5 L201.50,90.1 L201.75,97.6 L202.00,90.4 L202.25,95.2 L202.50,88.9 L202.75,94.4 L203.00,87.7 L203.25,94.0 L203.50,87.9 L203.75,96.7 L204.00,89.2 L204.25,96.5 L204.50,89.5 L204.75,93.9 L205.00,86.6 L205.25,94.0 L205.50,89.3 L205.75,94.1 L206.00,89.3 L206.25,94.3 L206.50,89.6 L206.75,96.4 L207.00,87.6 L207.25,96.2 L207.50,88.5 L207.75,94.9 L208.00,90.7 L208.25,92.8 L208.50,88.6 L208.75,95.5 L209.00,90.8 L209.25,106.1 L209.50,114.9 L209.75,133.2 L210.00,143.1 L210.25,157.6 L210.50,168.1 L210.75,175.1 L211.00,176.6 L211.25,183.5 L211.50,185.8 L211.75,191.3 L212.00,193.4 L212.25,200.0 L212.50,201.5 L212.75,207.9 L213.00,210.2 L213.25,216.2 L213.50,219.2 L213.75,224.8 L214.00,226.0 L214.25,230.8 L214.50,227.9 L214.75,231.8 L215.00,229.1 L215.25,235.7 L215.50,233.7 L215.75,240.2 L216.00,235.4 L216.25,239.6 L216.50,235.3 L216.75,240.0 L217.00,232.3 L217.25,239.0 L217.50,233.9 L217.75,237.7 L218.00,231.0 L218.25,239.1 L218.50,231.3 L218.75,236.4 L219.00,228.7 L219.25,236.8 L219.50,228.8 L219.75,236.2 L220.00,228.9 L220.25,231.0 L220.50,221.9 L220.75,223.3 L221.00,215.2 L221.25,214.4 L221.50,209.4 L221.75,209.9 L222.00,205.6 L222.25,204.8 L222.50,201.6 L222.75,202.1 L223.00,198.0 L223.25,197.6 L223.50,194.1 L223.75,194.3 L224.00,189.2 L224.25,189.9 L224.50,186.3 L224.75,186.6 L225.00,181.9 L225.25,182.9 L225.50,178.4 L225.75,178.4 L226.00,174.4 L226.25,174.7 L226.50,170.8 L226.75,173.5 L227.00,170.9 L227.25,175.8 L227.50,169.8 L227.75,173.8 L228.00,169.8 L228.25,176.6 L228.50,167.9 L228.75,175.5 L229.00,165.8 L229.25,174.2 L229.50,161.9 L229.75,167.9 L230.00,163.3 L230.25,168.4 L230.50,160.5 L230.75,169.0 L231.00,161.2 L231.25,169.7 L231.50,160.5 L231.75,166.2 L232.00,158.9 L232.25,164.8 L232.50,159.0 L232.75,165.8 L233.00,159.5 L233.25,165.9 L233.50,155.9 L233.75,162.9 L234.00,154.6 L234.25,162.7 L234.50,152.6 L234.75,160.9 L235.00,152.7 L235.25,157.5 L235.50,151.8 L235.75,158.6 L236.00,150.1 L236.25,155.9 L236.50,148.0 L236.75,154.5 L237.00,146.3 L237.25,156.4 L237.50,146.4 L237.75,154.3 L238.00,147.5 L238.25,154.3 L238.50,146.5 L238.75,152.9 L239.00,146.9 L239.25,154.9 L239.50,151.2 L239.75,159.5 L240.00,157.2 L240.25,163.4 L240.50,163.0 L240.75,169.4 L241.00,170.3 L241.25,174.5 L241.50,175.0 L241.75,181.5 L242.00,181.6 L242.25,186.9 L242.50,187.4 L242.75,192.6 L243.00,193.4 L243.25,198.7 L243.50,198.6 L243.75,204.6 L244.00,205.0 L244.25,210.0 L244.50,211.8 L244.75,216.1 L245.00,216.2 L245.25,222.6 L245.50,222.2 L245.75,228.5 L246.00,229.1 L246.25,232.1 L246.50,229.2 L246.75,234.8 L247.00,229.6 L247.25,236.1 L247.50,229.7 L247.75,239.8 L248.00,233.7 L248.25,239.8 L248.50,230.5 L248.75,238.7 L249.00,233.5 L249.25,238.3 L249.50,231.4 L249.75,236.6 L250.00,229.8 L250.25,238.4 L250.50,230.2 L250.75,236.6 L251.00,232.0 L251.25,224.2 L251.50,209.2 L251.75,208.1 L252.00,201.0 L252.25,200.1 L252.50,193.7 L252.75,192.7 L253.00,186.5 L253.25,184.8 L253.50,179.5 L253.75,176.8 L254.00,172.0 L254.25,169.8 L254.50,163.6 L254.75,162.3 L255.00,155.5 L255.25,155.2 L255.50,148.3 L255.75,147.8 L256.00,141.4 L256.25,139.3 L256.50,133.8 L256.75,135.6 L257.00,130.9 L257.25,135.1 L257.50,127.0 L257.75,137.1 L258.00,125.6 L258.25,132.9 L258.50,127.0 L258.75,136.1 L259.00,125.2 L259.25,133.6 L259.50,125.1 L259.75,132.8 L260.00,124.9 L260.25,131.3 L260.50,123.5 L260.75,132.9 L261.00,125.8 L261.25,130.7 L261.50,123.2 L261.75,130.6 L262.00,122.1 L262.25,132.3 L262.50,124.5 L262.75,131.7 L263.00,121.1 L263.25,128.1 L263.50,122.9 L263.75,130.7 L264.00,119.8 L264.25,130.4 L264.50,120.1 L264.75,127.3 L265.00,116.9 L265.25,127.5 L265.50,118.9 L265.75,125.5 L266.00,116.9 L266.25,124.9 L266.50,115.5 L266.75,124.7 L267.00,113.1 L267.25,128.4 L267.50,117.1 L267.75,124.0 L268.00,114.1 L268.25,127.5 L268.50,120.0 L268.75,126.4 L269.00,115.6 L269.25,123.6 L269.50,117.8 L269.75,125.5 L270.00,119.6 L270.25,133.4 L270.50,137.3 L270.75,151.4 L271.00,156.3 L271.25,168.1 L271.50,174.4 L271.75,181.5 L272.00,185.1 L272.25,193.2 L272.50,195.8 L272.75,205.2 L273.00,207.9 L273.25,216.8 L273.50,219.3 L273.75,226.9 L274.00,230.8 L274.25,234.4 L274.50,230.2 L274.75,234.6 L275.00,231.3 L275.25,233.8 L275.50,231.0 L275.75,235.5 L276.00,229.3 L276.25,236.2 L276.50,231.8 L276.75,238.7 L277.00,234.5 L277.25,241.3 L277.50,233.5 L277.75,239.3 L278.00,234.2 L278.25,237.5 L278.50,231.4 L278.75,240.4 L279.00,233.6 L279.25,238.8 L279.50,232.0 L279.75,237.0 L280.00,233.0 L280.25,236.5 L280.50,233.0 L280.75,236.4 L281.00,233.0 L281.25,236.3 L281.50,232.4 L281.75,235.8 L282.00,230.7 L282.25,227.7 L282.50,216.3 L282.75,214.2 L283.00,204.1 L283.25,201.3 L283.50,193.8 L283.75,189.9 L284.00,182.7 L284.25,180.2 L284.50,172.4 L284.75,170.0 L285.00,162.3 L285.25,158.6 L285.50,150.8 L285.75,148.4 L286.00,141.4 L286.25,137.9 L286.50,130.9 L286.75,126.9 L287.00,119.7 L287.25,116.3 L287.50,109.9 L287.75,106.1 L288.00,98.7 L288.25,100.0 L288.50,96.0 L288.75,98.6 L289.00,92.4 L289.25,99.0 L289.50,90.0 L289.75,100.3 L290.00,91.7 L290.25,95.7 L290.50,88.9 L290.75,98.3 L291.00,87.5 L291.25,95.5 L291.50,87.4 L291.75,91.7 L292.00,86.6 L292.25,93.6 L292.50,84.1 L292.75,92.6 L293.00,83.5 L293.25,90.1 L293.50,81.6 L293.75,88.3 L294.00,83.0 L294.25,88.5 L294.50,81.2 L294.75,87.2 L295.00,77.3 L295.25,86.4 L295.50,75.2 L295.75,80.9 L296.00,75.9 L296.25,82.1 L296.50,74.8 L296.75,81.0 L297.00,72.8 L297.25,79.0 L297.50,71.7 L297.75,77.2 L298.00,72.1 L298.25,75.9 L298.50,71.6 L298.75,75.9 L299.00,70.6 L299.25,73.5 L299.50,67.6 L299.75,75.1 L300.00,68.1 L300.25,73.0 L300.50,70.2 L300.75,73.7 L301.00,68.3 L301.25,85.7 L301.50,92.8 L301.75,107.5 L302.00,114.2 L302.25,129.6 L302.50,136.3 L302.75,150.7 L303.00,159.1 L303.25,163.7 L303.50,163.9 L303.75,171.0 L304.00,170.7 L304.25,177.5 L304.50,175.8 L304.75,183.9 L305.00,184.6 L305.25,190.2 L305.50,187.6 L305.75,196.4 L306.00,193.6 L306.25,201.6 L306.50,201.0 L306.75,210.3 L307.00,205.7 L307.25,212.5 L307.50,209.5 L307.75,217.6 L308.00,215.0 L308.25,220.8 L308.50,218.5 L308.75,223.3 L309.00,220.2 L309.25,225.4 L309.50,221.6 L309.75,228.2 L310.00,224.0 L310.25,229.9 L310.50,225.7 L310.75,231.2 L311.00,228.9 L311.25,232.0 L311.50,229.5 L311.75,233.6 L312.00,231.8 L312.25,234.4 L312.50,233.1 L312.77,236.1 L313.04,234.9 L313.31,238.0 L313.59,235.5 L313.86,239.1 L314.13,238.1 L314.40,241.6 L314.60,244.0" fill="none" stroke="#e8793a" stroke-width="2.5" stroke-linejoin="round"/></g>
<!-- off skin line -->
<line x1="41.8" y1="228.8" x2="319.3" y2="228.8" stroke="#707070" stroke-width="1.3"/>
<path d="M43.2,228.8 L49.2,226.6 L49.2,231 Z" fill="#333"/><path d="M68.8,228.8 L74.8,226.6 L74.8,231 Z" fill="#333"/><path d="M100.9,228.8 L106.9,226.6 L106.9,231 Z" fill="#333"/><path d="M131.3,228.8 L137.3,226.6 L137.3,231 Z" fill="#333"/><path d="M156.3,228.8 L162.3,226.6 L162.3,231 Z" fill="#333"/><path d="M214.0,228.8 L208.0,226.6 L208.0,231 Z" fill="#333"/><path d="M247.2,228.8 L241.2,226.6 L241.2,231 Z" fill="#333"/><path d="M278.2,228.8 L272.2,226.6 L272.2,231 Z" fill="#333"/><path d="M315.6,228.8 L309.6,226.6 L309.6,231 Z" fill="#333"/>
<text x="183" y="233" class="it" text-anchor="middle" style="paint-order:stroke;stroke:#fff;stroke-width:4px;stroke-linejoin:round">Off skin</text>
<!-- frame -->
<g stroke="#6e6e6e" stroke-width="1.1" fill="none">
<rect x="41.8" y="7.5" width="277.50" height="271.70"/>
<line x1="41.80" y1="279.2" x2="41.80" y2="276.4"/><line x1="41.80" y1="7.5" x2="41.80" y2="10.3"/><line x1="67.03" y1="279.2" x2="67.03" y2="276.4"/><line x1="67.03" y1="7.5" x2="67.03" y2="10.3"/><line x1="92.25" y1="279.2" x2="92.25" y2="276.4"/><line x1="92.25" y1="7.5" x2="92.25" y2="10.3"/><line x1="117.48" y1="279.2" x2="117.48" y2="276.4"/><line x1="117.48" y1="7.5" x2="117.48" y2="10.3"/><line x1="142.71" y1="279.2" x2="142.71" y2="276.4"/><line x1="142.71" y1="7.5" x2="142.71" y2="10.3"/><line x1="167.94" y1="279.2" x2="167.94" y2="276.4"/><line x1="167.94" y1="7.5" x2="167.94" y2="10.3"/><line x1="193.16" y1="279.2" x2="193.16" y2="276.4"/><line x1="193.16" y1="7.5" x2="193.16" y2="10.3"/><line x1="218.39" y1="279.2" x2="218.39" y2="276.4"/><line x1="218.39" y1="7.5" x2="218.39" y2="10.3"/><line x1="243.62" y1="279.2" x2="243.62" y2="276.4"/><line x1="243.62" y1="7.5" x2="243.62" y2="10.3"/><line x1="268.85" y1="279.2" x2="268.85" y2="276.4"/><line x1="268.85" y1="7.5" x2="268.85" y2="10.3"/><line x1="294.07" y1="279.2" x2="294.07" y2="276.4"/><line x1="294.07" y1="7.5" x2="294.07" y2="10.3"/><line x1="319.30" y1="279.2" x2="319.30" y2="276.4"/><line x1="319.30" y1="7.5" x2="319.30" y2="10.3"/><line x1="41.8" y1="233.8" x2="44.599999999999994" y2="233.8"/><line x1="319.3" y1="233.8" x2="316.5" y2="233.8"/>
</g>
<text x="43.60" y="293.3" text-anchor="middle">0</text><text x="92.25" y="293.3" text-anchor="middle">400</text><text x="142.71" y="293.3" text-anchor="middle">800</text><text x="193.16" y="293.3" text-anchor="middle">1200</text><text x="243.62" y="293.3" text-anchor="middle">1600</text><text x="294.07" y="293.3" text-anchor="middle">2000</text>
<text x="12.6" y="10.1">0.01</text>
<text x="30.2" y="236.7">0</text>
<text x="321.8" y="10">0.1</text>
<text x="322.4" y="236.3">0</text>
<text x="169.8" y="307.5"><tspan class="it">t</tspan> [s]</text>
<text x="44.3" y="103.6" class="it">Arm</text><line x1="55.9" y1="106.8" x2="55.9" y2="127.69999999999999" stroke="#555" stroke-width="1"/><path d="M53.699999999999996,125.69999999999999 L58.1,125.69999999999999 L55.9,133.7 Z" fill="#333"/><text x="69.0" y="74.0" class="it">Hand</text><line x1="84.6" y1="77.5" x2="84.6" y2="120.0" stroke="#555" stroke-width="1"/><path d="M82.39999999999999,118.0 L86.8,118.0 L84.6,126.0 Z" fill="#333"/><text x="95.3" y="28.8" class="it">Finger</text><line x1="113.4" y1="31" x2="113.4" y2="36.3" stroke="#555" stroke-width="1"/><path d="M111.2,34.3 L115.60000000000001,34.3 L113.4,42.3 Z" fill="#333"/><text x="132.8" y="103.5" class="it">Arm</text><line x1="145.6" y1="106.8" x2="145.6" y2="109.0" stroke="#555" stroke-width="1"/><path d="M143.4,107.0 L147.79999999999998,107.0 L145.6,115.0 Z" fill="#333"/><text x="158.0" y="73.8" class="it">Hand</text><line x1="174.6" y1="77.5" x2="174.6" y2="96.2" stroke="#555" stroke-width="1"/><path d="M172.4,94.2 L176.79999999999998,94.2 L174.6,102.2 Z" fill="#333"/><text x="183.4" y="29.0" class="it">Finger</text><line x1="202.5" y1="35.5" x2="202.5" y2="61.599999999999994" stroke="#555" stroke-width="1"/><path d="M200.3,59.599999999999994 L204.7,59.599999999999994 L202.5,67.6 Z" fill="#333"/><text x="220.8" y="103.6" class="it">Arm</text><line x1="234.3" y1="106.8" x2="234.3" y2="115.6" stroke="#555" stroke-width="1"/><path d="M232.10000000000002,113.6 L236.5,113.6 L234.3,121.6 Z" fill="#333"/><text x="250.0" y="73.8" class="it">Hand</text><line x1="265.3" y1="77.5" x2="265.3" y2="93.0" stroke="#555" stroke-width="1"/><path d="M263.1,91.0 L267.5,91.0 L265.3,99.0 Z" fill="#333"/><text x="275.8" y="28.3" class="it">Finger</text><line x1="293.1" y1="31" x2="293.1" y2="37.8" stroke="#555" stroke-width="1"/><path d="M290.90000000000003,35.8 L295.3,35.8 L293.1,43.8 Z" fill="#333"/>
<!-- left y label -->
<text transform="translate(10.6,239.4) rotate(-90)" class="it" style="font-size:14.3px">Predicted CO<tspan font-size="9" dy="3">2</tspan><tspan dy="-3"> concentration, MSC</tspan></text>
<!-- right y label -->
<text transform="translate(351.6,251.5) rotate(-90)" class="it">Predicted CO<tspan font-size="9" dy="3">2</tspan><tspan dy="-3"> Concentration, MSC</tspan><tspan font-size="9.5" dy="-5" font-style="normal">Air</tspan><tspan font-size="9.5" dx="-13" dy="9" font-style="normal">RWR2</tspan></text>
<!-- legend -->
<rect x="241.3" y="236" width="71.6" height="37.5" fill="#fff" stroke="#7a7a7a" stroke-width="1"/>
<g stroke-width="2">
<line x1="246.7" x2="257.9" y1="241.2" y2="241.2" stroke="#1565c0"/>
<line x1="246.7" x2="257.9" y1="245.4" y2="245.4" stroke="#4a86d0"/>
<line x1="246.7" x2="257.9" y1="249.8" y2="249.8" stroke="#86aae2"/>
<line x1="246.7" x2="257.9" y1="258.7" y2="258.7" stroke="#d9531e"/>
<line x1="246.7" x2="257.9" y1="262.9" y2="262.9" stroke="#e8773a"/>
<line x1="246.7" x2="257.9" y1="267.1" y2="267.1" stroke="#f0a070"/>
</g>
<text x="260.5" y="250.6" class="it" font-size="15" style="font-size:15px">MSC</text>
<text x="260.5" y="267.5" class="it" style="font-size:15px">MSC</text>
<text x="289.4" y="262.6" style="font-size:8px">Air</text>
<text x="289.1" y="272.2" style="font-size:8px">RWR2</text>
</svg>
</body></html>
